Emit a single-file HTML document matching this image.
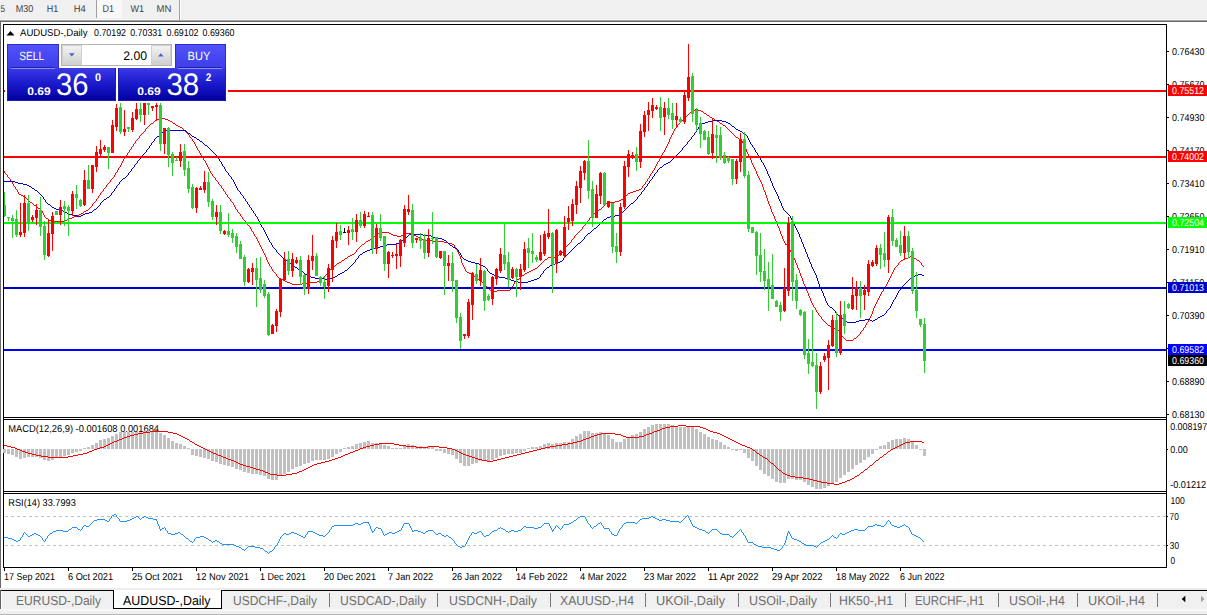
<!DOCTYPE html>
<html><head><meta charset="utf-8"><title>AUDUSD-,Daily</title>
<style>html,body{margin:0;padding:0;background:#fff;overflow:hidden}body{width:1207px;height:615px;position:relative;font-family:"Liberation Sans",sans-serif}svg{position:absolute;left:0;top:0;display:block}svg text{font-family:"Liberation Sans",sans-serif;white-space:pre;text-rendering:geometricPrecision}.c{shape-rendering:crispEdges}</style></head><body>
<svg width="1207" height="615" viewBox="0 0 1207 615">
<defs><linearGradient id="gb" x1="0" y1="0" x2="0" y2="1"><stop offset="0" stop-color="#3a3ae6"/><stop offset="0.5" stop-color="#1a1acc"/><stop offset="1" stop-color="#0000a0"/></linearGradient><linearGradient id="gt" x1="0" y1="0" x2="0" y2="1"><stop offset="0" stop-color="#5252fa"/><stop offset="1" stop-color="#3e3eea"/></linearGradient><linearGradient id="gs" x1="0" y1="0" x2="0" y2="1"><stop offset="0" stop-color="#f4f4f4"/><stop offset="1" stop-color="#cfcfcf"/></linearGradient><clipPath id="cm"><rect x="4" y="25" width="1162" height="392"/></clipPath></defs>
<rect x="0" y="0" width="1207" height="615" fill="#fff"/>
<rect x="0" y="0" width="1207" height="20" fill="#f0f0f0"/>
<rect x="0" y="19" width="1207" height="1" fill="#f5f5f5"/>
<rect x="0" y="20" width="1207" height="1" fill="#a6a6a6"/>
<rect x="0" y="21" width="1207" height="1" fill="#696969"/>
<rect x="97" y="0" width="25" height="18" fill="#f8f8f8"/>
<rect x="96" y="0" width="1" height="18" fill="#a0a0a0"/>
<rect x="179" y="0" width="1" height="20" fill="#a0a0a0"/>
<rect x="180" y="0" width="1" height="20" fill="#fff"/>
<text x="0.5" y="12" font-size="10" fill="#404040" textLength="4.5" lengthAdjust="spacingAndGlyphs">5</text>
<text x="15.7" y="12" font-size="10" fill="#404040" textLength="17.6" lengthAdjust="spacingAndGlyphs">M30</text>
<text x="46.7" y="12" font-size="10" fill="#404040" textLength="11.5" lengthAdjust="spacingAndGlyphs">H1</text>
<text x="73.8" y="12" font-size="10" fill="#404040" textLength="12" lengthAdjust="spacingAndGlyphs">H4</text>
<text x="102.5" y="12" font-size="10" fill="#404040" textLength="11.5" lengthAdjust="spacingAndGlyphs">D1</text>
<text x="130.5" y="12" font-size="10" fill="#404040" textLength="13.5" lengthAdjust="spacingAndGlyphs">W1</text>
<text x="156.5" y="12" font-size="10" fill="#404040" textLength="14.8" lengthAdjust="spacingAndGlyphs">MN</text>
<rect x="0" y="21" width="1" height="567" fill="#696969"/>
<g class="c" fill="#000">
<rect x="3" y="24" width="1164" height="1" fill="#000"/>
<rect x="3" y="24" width="1" height="544" fill="#000"/>
<rect x="1166" y="24" width="1" height="544" fill="#000"/>
<rect x="3" y="417" width="1164" height="1" fill="#000"/>
<rect x="3" y="419" width="1164" height="1" fill="#000"/>
<rect x="3" y="491" width="1164" height="1" fill="#000"/>
<rect x="3" y="493" width="1164" height="1" fill="#000"/>
<rect x="3" y="567" width="1164" height="1" fill="#000"/>
<rect x="4" y="418" width="1162" height="1" fill="#fff"/>
<rect x="4" y="492" width="1162" height="1" fill="#fff"/>
</g>
<g class="c">
<rect x="1167" y="51" width="2" height="1" fill="#000"/>
<rect x="1167" y="84" width="2" height="1" fill="#000"/>
<rect x="1167" y="117" width="2" height="1" fill="#000"/>
<rect x="1167" y="150" width="2" height="1" fill="#000"/>
<rect x="1167" y="183" width="2" height="1" fill="#000"/>
<rect x="1167" y="216" width="2" height="1" fill="#000"/>
<rect x="1167" y="249" width="2" height="1" fill="#000"/>
<rect x="1167" y="282" width="2" height="1" fill="#000"/>
<rect x="1167" y="315" width="2" height="1" fill="#000"/>
<rect x="1167" y="348" width="2" height="1" fill="#000"/>
<rect x="1167" y="381" width="2" height="1" fill="#000"/>
<rect x="1167" y="414" width="2" height="1" fill="#000"/>
</g>
<text x="1172" y="55" font-size="10" fill="#000" textLength="32.4" lengthAdjust="spacingAndGlyphs">0.76430</text>
<text x="1172" y="88" font-size="10" fill="#000" textLength="32.4" lengthAdjust="spacingAndGlyphs">0.75670</text>
<text x="1172" y="121" font-size="10" fill="#000" textLength="32.4" lengthAdjust="spacingAndGlyphs">0.74930</text>
<text x="1172" y="154" font-size="10" fill="#000" textLength="32.4" lengthAdjust="spacingAndGlyphs">0.74170</text>
<text x="1172" y="187" font-size="10" fill="#000" textLength="32.4" lengthAdjust="spacingAndGlyphs">0.73410</text>
<text x="1172" y="220" font-size="10" fill="#000" textLength="32.4" lengthAdjust="spacingAndGlyphs">0.72650</text>
<text x="1172" y="253" font-size="10" fill="#000" textLength="32.4" lengthAdjust="spacingAndGlyphs">0.71910</text>
<text x="1172" y="286" font-size="10" fill="#000" textLength="32.4" lengthAdjust="spacingAndGlyphs">0.71150</text>
<text x="1172" y="319" font-size="10" fill="#000" textLength="32.4" lengthAdjust="spacingAndGlyphs">0.70390</text>
<text x="1172" y="352" font-size="10" fill="#000" textLength="32.4" lengthAdjust="spacingAndGlyphs">0.69630</text>
<text x="1172" y="385" font-size="10" fill="#000" textLength="32.4" lengthAdjust="spacingAndGlyphs">0.68890</text>
<text x="1172" y="418" font-size="10" fill="#000" textLength="32.4" lengthAdjust="spacingAndGlyphs">0.68130</text>
<rect x="1167" y="449" width="1" height="1" fill="#000" class="c"/>
<text x="1170.2" y="430" font-size="10" fill="#000" textLength="37" lengthAdjust="spacingAndGlyphs">0.008197</text>
<text x="1170.2" y="453" font-size="10" fill="#000" textLength="17.5" lengthAdjust="spacingAndGlyphs">0.00</text>
<text x="1170.2" y="488" font-size="10" fill="#000" textLength="36" lengthAdjust="spacingAndGlyphs">-0.01212</text>
<rect x="1167" y="516" width="1" height="1" fill="#000" class="c"/>
<rect x="1167" y="545" width="1" height="1" fill="#000" class="c"/>
<text x="1170.5" y="504" font-size="10" fill="#000" textLength="14.3" lengthAdjust="spacingAndGlyphs">100</text>
<text x="1169.6" y="520" font-size="10" fill="#000" textLength="9.2" lengthAdjust="spacingAndGlyphs">70</text>
<text x="1169.8" y="549" font-size="10" fill="#000" textLength="9.2" lengthAdjust="spacingAndGlyphs">30</text>
<text x="1170.5" y="564" font-size="10" fill="#000" textLength="4.6" lengthAdjust="spacingAndGlyphs">0</text>
<g clip-path="url(#cm)">
<path class="c" fill="#ff0000" d="M695 109h3v1h-3zM693 110h2v1h-2zM698 110h3v1h-3zM691 111h2v1h-2zM701 111h2v1h-2zM690 112h1v1h-1zM703 112h1v1h-1zM689 113h1v1h-1zM704 113h2v1h-2zM688 114h1v1h-1zM706 114h1v1h-1zM687 115h1v1h-1zM707 115h2v1h-2zM686 116h1v1h-1zM709 116h1v1h-1zM685 117h1v1h-1zM710 117h2v1h-2zM160 118h5v1h-5zM684 118h1v1h-1zM712 118h2v1h-2zM157 119h3v1h-3zM165 119h3v1h-3zM683 119h1v1h-1zM714 119h1v1h-1zM155 120h2v1h-2zM168 120h2v1h-2zM682 120h1v1h-1zM715 120h2v1h-2zM154 121h1v1h-1zM170 121h2v1h-2zM681 121h1v1h-1zM717 121h2v1h-2zM153 122h1v1h-1zM172 122h1v1h-1zM680 122h1v1h-1zM719 122h1v1h-1zM151 123h2v1h-2zM173 123h2v1h-2zM679 123h1v1h-1zM720 123h2v1h-2zM150 124h1v1h-1zM175 124h1v1h-1zM678 124h1v1h-1zM722 124h1v1h-1zM149 125h1v1h-1zM176 125h2v1h-2zM677 125h1v2h-1zM723 125h2v1h-2zM148 126h1v1h-1zM178 126h2v1h-2zM725 126h1v1h-1zM147 127h1v1h-1zM180 127h2v1h-2zM676 127h1v1h-1zM726 127h1v1h-1zM146 128h1v1h-1zM182 128h1v1h-1zM675 128h1v1h-1zM727 128h1v1h-1zM145 129h1v2h-1zM183 129h1v1h-1zM674 129h1v2h-1zM728 129h1v1h-1zM184 130h1v1h-1zM729 130h1v1h-1zM144 131h1v1h-1zM185 131h1v1h-1zM673 131h1v2h-1zM730 131h1v1h-1zM143 132h1v1h-1zM186 132h1v1h-1zM731 132h1v1h-1zM142 133h1v1h-1zM187 133h1v1h-1zM672 133h1v2h-1zM732 133h1v1h-1zM141 134h1v1h-1zM188 134h1v1h-1zM733 134h1v1h-1zM140 135h1v1h-1zM189 135h1v2h-1zM671 135h1v2h-1zM734 135h1v1h-1zM139 136h1v2h-1zM735 136h1v1h-1zM190 137h1v1h-1zM670 137h1v2h-1zM736 137h2v1h-2zM138 138h1v1h-1zM191 138h1v1h-1zM738 138h1v1h-1zM137 139h1v1h-1zM192 139h1v2h-1zM669 139h1v3h-1zM739 139h2v1h-2zM136 140h1v1h-1zM741 140h1v1h-1zM135 141h1v2h-1zM193 141h1v1h-1zM742 141h1v2h-1zM194 142h1v2h-1zM668 142h1v2h-1zM134 143h1v1h-1zM743 143h1v2h-1zM133 144h1v2h-1zM195 144h1v2h-1zM667 144h1v2h-1zM744 145h1v2h-1zM132 146h1v1h-1zM196 146h1v2h-1zM666 146h1v2h-1zM131 147h1v2h-1zM745 147h1v2h-1zM197 148h1v2h-1zM665 148h1v2h-1zM130 149h1v1h-1zM746 149h1v3h-1zM129 150h1v2h-1zM198 150h1v1h-1zM664 150h1v2h-1zM199 151h1v2h-1zM128 152h1v1h-1zM663 152h1v1h-1zM747 152h1v2h-1zM127 153h1v2h-1zM200 153h1v2h-1zM662 153h1v2h-1zM748 154h1v2h-1zM126 155h1v1h-1zM201 155h1v1h-1zM661 155h1v2h-1zM125 156h1v2h-1zM202 156h1v2h-1zM749 156h1v2h-1zM660 157h1v2h-1zM124 158h1v1h-1zM203 158h1v2h-1zM750 158h1v2h-1zM123 159h1v2h-1zM659 159h1v2h-1zM204 160h1v1h-1zM751 160h1v3h-1zM122 161h1v2h-1zM205 161h1v2h-1zM658 161h1v1h-1zM657 162h1v2h-1zM121 163h1v2h-1zM206 163h1v2h-1zM752 163h1v2h-1zM656 164h1v2h-1zM120 165h1v2h-1zM207 165h1v2h-1zM753 165h1v2h-1zM655 166h1v2h-1zM119 167h1v1h-1zM208 167h1v2h-1zM754 167h1v2h-1zM118 168h1v2h-1zM654 168h1v2h-1zM209 169h1v2h-1zM755 169h1v2h-1zM3 170h1v1h-1zM117 170h1v2h-1zM653 170h1v1h-1zM4 171h1v2h-1zM210 171h1v2h-1zM652 171h1v2h-1zM756 171h1v3h-1zM116 172h1v1h-1zM5 173h1v1h-1zM115 173h1v2h-1zM211 173h1v1h-1zM651 173h1v1h-1zM6 174h1v1h-1zM212 174h1v2h-1zM650 174h1v2h-1zM757 174h1v2h-1zM7 175h1v2h-1zM114 175h1v2h-1zM213 176h1v1h-1zM649 176h1v2h-1zM758 176h1v2h-1zM8 177h1v1h-1zM113 177h1v1h-1zM214 177h1v1h-1zM9 178h1v1h-1zM112 178h1v1h-1zM215 178h1v2h-1zM648 178h1v1h-1zM759 178h1v2h-1zM10 179h1v2h-1zM111 179h1v1h-1zM647 179h1v2h-1zM110 180h1v2h-1zM216 180h1v1h-1zM760 180h1v2h-1zM11 181h1v1h-1zM217 181h1v1h-1zM646 181h1v1h-1zM12 182h1v2h-1zM109 182h1v1h-1zM218 182h1v2h-1zM645 182h1v2h-1zM761 182h1v2h-1zM108 183h1v1h-1zM13 184h1v2h-1zM107 184h1v1h-1zM219 184h1v1h-1zM644 184h1v1h-1zM762 184h1v3h-1zM106 185h1v2h-1zM220 185h1v1h-1zM643 185h1v1h-1zM14 186h1v1h-1zM221 186h1v2h-1zM642 186h1v2h-1zM15 187h1v2h-1zM105 187h1v1h-1zM763 187h1v3h-1zM104 188h1v1h-1zM222 188h1v1h-1zM641 188h1v1h-1zM16 189h1v1h-1zM103 189h1v2h-1zM223 189h1v2h-1zM639 189h2v1h-2zM17 190h1v2h-1zM636 190h3v1h-3zM764 190h1v2h-1zM102 191h1v1h-1zM224 191h1v1h-1zM633 191h3v1h-3zM18 192h1v2h-1zM101 192h1v1h-1zM225 192h1v2h-1zM630 192h3v1h-3zM765 192h1v3h-1zM100 193h1v2h-1zM628 193h2v1h-2zM19 194h2v1h-2zM226 194h1v1h-1zM627 194h1v1h-1zM21 195h2v1h-2zM99 195h1v1h-1zM227 195h1v2h-1zM626 195h1v1h-1zM766 195h1v3h-1zM23 196h2v1h-2zM98 196h1v2h-1zM625 196h1v1h-1zM25 197h1v1h-1zM228 197h1v1h-1zM624 197h1v1h-1zM26 198h1v1h-1zM97 198h1v1h-1zM229 198h1v1h-1zM623 198h1v1h-1zM767 198h1v3h-1zM27 199h1v1h-1zM96 199h1v2h-1zM230 199h1v2h-1zM621 199h2v1h-2zM28 200h1v1h-1zM619 200h2v1h-2zM29 201h1v1h-1zM95 201h1v1h-1zM231 201h1v1h-1zM615 201h4v1h-4zM768 201h1v3h-1zM30 202h2v1h-2zM94 202h1v1h-1zM232 202h1v1h-1zM607 202h8v1h-8zM32 203h1v1h-1zM93 203h1v1h-1zM233 203h1v2h-1zM606 203h1v1h-1zM33 204h1v1h-1zM92 204h1v2h-1zM605 204h1v1h-1zM769 204h1v2h-1zM34 205h2v1h-2zM234 205h1v2h-1zM604 205h1v1h-1zM36 206h1v1h-1zM91 206h1v1h-1zM603 206h1v1h-1zM770 206h1v3h-1zM37 207h1v1h-1zM90 207h1v1h-1zM235 207h1v2h-1zM602 207h1v1h-1zM38 208h2v1h-2zM89 208h1v1h-1zM601 208h1v1h-1zM40 209h1v1h-1zM88 209h1v1h-1zM236 209h1v1h-1zM599 209h2v1h-2zM771 209h1v3h-1zM41 210h1v1h-1zM86 210h2v1h-2zM237 210h1v2h-1zM598 210h1v1h-1zM42 211h1v2h-1zM84 211h2v1h-2zM597 211h1v1h-1zM83 212h1v1h-1zM238 212h1v1h-1zM596 212h1v1h-1zM772 212h1v2h-1zM43 213h1v2h-1zM81 213h2v1h-2zM239 213h1v1h-1zM594 213h2v1h-2zM79 214h2v1h-2zM240 214h1v2h-1zM593 214h1v1h-1zM773 214h1v2h-1zM44 215h1v2h-1zM77 215h2v1h-2zM592 215h1v1h-1zM74 216h3v1h-3zM241 216h1v1h-1zM591 216h1v1h-1zM774 216h1v3h-1zM45 217h1v1h-1zM72 217h2v1h-2zM242 217h1v2h-1zM590 217h1v1h-1zM46 218h2v1h-2zM69 218h3v1h-3zM589 218h1v2h-1zM48 219h1v1h-1zM67 219h2v1h-2zM243 219h1v1h-1zM775 219h1v2h-1zM49 220h2v1h-2zM65 220h2v1h-2zM244 220h1v1h-1zM588 220h1v1h-1zM51 221h14v1h-14zM245 221h1v1h-1zM587 221h1v1h-1zM776 221h1v2h-1zM246 222h1v2h-1zM586 222h1v1h-1zM585 223h1v2h-1zM777 223h1v3h-1zM247 224h1v1h-1zM248 225h1v1h-1zM584 225h1v1h-1zM249 226h1v1h-1zM583 226h1v1h-1zM778 226h1v2h-1zM250 227h1v2h-1zM582 227h1v2h-1zM779 228h1v3h-1zM251 229h1v2h-1zM581 229h1v1h-1zM580 230h1v1h-1zM252 231h1v1h-1zM579 231h1v1h-1zM780 231h1v3h-1zM253 232h1v2h-1zM380 232h9v1h-9zM578 232h1v1h-1zM377 233h3v1h-3zM389 233h2v1h-2zM406 233h5v1h-5zM577 233h1v1h-1zM254 234h1v2h-1zM376 234h1v1h-1zM391 234h2v1h-2zM404 234h2v1h-2zM411 234h2v1h-2zM576 234h1v1h-1zM781 234h1v2h-1zM375 235h1v1h-1zM393 235h4v1h-4zM401 235h3v1h-3zM413 235h3v1h-3zM575 235h1v1h-1zM255 236h1v1h-1zM374 236h1v1h-1zM397 236h4v1h-4zM416 236h2v1h-2zM574 236h1v2h-1zM782 236h1v3h-1zM256 237h1v2h-1zM373 237h1v1h-1zM418 237h2v1h-2zM372 238h1v1h-1zM420 238h2v1h-2zM573 238h1v1h-1zM257 239h1v2h-1zM370 239h2v1h-2zM422 239h2v1h-2zM572 239h1v1h-1zM783 239h1v2h-1zM368 240h2v1h-2zM424 240h9v1h-9zM571 240h1v2h-1zM258 241h1v2h-1zM366 241h2v1h-2zM433 241h11v1h-11zM784 241h1v2h-1zM365 242h1v1h-1zM444 242h4v1h-4zM570 242h1v1h-1zM259 243h1v2h-1zM364 243h1v1h-1zM448 243h4v1h-4zM569 243h1v1h-1zM785 243h1v2h-1zM362 244h2v1h-2zM452 244h2v1h-2zM568 244h1v1h-1zM786 244h2v1h-2zM260 245h1v2h-1zM361 245h1v1h-1zM454 245h1v2h-1zM567 245h1v1h-1zM787 245h1v1h-1zM360 246h1v1h-1zM566 246h1v1h-1zM788 246h1v2h-1zM261 247h1v2h-1zM359 247h1v1h-1zM455 247h1v2h-1zM565 247h1v1h-1zM358 248h1v1h-1zM564 248h1v2h-1zM789 248h1v2h-1zM262 249h1v2h-1zM357 249h1v1h-1zM456 249h1v1h-1zM356 250h1v2h-1zM457 250h1v2h-1zM563 250h1v2h-1zM790 250h1v2h-1zM263 251h1v2h-1zM355 252h1v1h-1zM458 252h1v2h-1zM562 252h1v1h-1zM791 252h1v2h-1zM264 253h1v2h-1zM354 253h1v1h-1zM560 253h2v1h-2zM352 254h2v1h-2zM459 254h1v2h-1zM559 254h1v1h-1zM792 254h1v2h-1zM265 255h1v2h-1zM350 255h2v1h-2zM557 255h2v1h-2zM348 256h2v1h-2zM460 256h1v3h-1zM555 256h2v1h-2zM793 256h1v2h-1zM910 256h2v1h-2zM266 257h1v3h-1zM347 257h1v1h-1zM548 257h7v1h-7zM908 257h2v1h-2zM912 257h2v1h-2zM345 258h2v1h-2zM547 258h1v1h-1zM794 258h1v2h-1zM905 258h3v1h-3zM914 258h2v1h-2zM344 259h1v1h-1zM461 259h1v4h-1zM545 259h2v1h-2zM903 259h2v1h-2zM916 259h1v1h-1zM267 260h1v2h-1zM342 260h2v1h-2zM544 260h1v1h-1zM795 260h1v3h-1zM901 260h2v1h-2zM917 260h2v1h-2zM341 261h1v1h-1zM543 261h1v1h-1zM900 261h1v1h-1zM919 261h1v1h-1zM268 262h1v2h-1zM339 262h2v1h-2zM542 262h1v1h-1zM899 262h1v1h-1zM920 262h1v1h-1zM337 263h2v1h-2zM462 263h1v2h-1zM541 263h1v1h-1zM796 263h1v2h-1zM898 263h1v2h-1zM921 263h1v2h-1zM269 264h1v2h-1zM336 264h1v1h-1zM540 264h1v1h-1zM335 265h1v1h-1zM463 265h1v2h-1zM539 265h1v1h-1zM797 265h1v3h-1zM897 265h1v1h-1zM922 265h1v1h-1zM270 266h1v1h-1zM333 266h2v1h-2zM538 266h1v1h-1zM896 266h1v1h-1zM923 266h1v1h-1zM271 267h1v2h-1zM332 267h1v1h-1zM464 267h1v2h-1zM537 267h1v1h-1zM895 267h1v1h-1zM331 268h1v1h-1zM535 268h2v1h-2zM798 268h1v2h-1zM894 268h1v2h-1zM272 269h1v2h-1zM330 269h1v1h-1zM465 269h1v2h-1zM533 269h2v1h-2zM329 270h1v2h-1zM531 270h2v1h-2zM799 270h1v3h-1zM893 270h1v2h-1zM273 271h1v1h-1zM466 271h1v1h-1zM529 271h2v1h-2zM274 272h1v1h-1zM328 272h1v1h-1zM467 272h2v1h-2zM527 272h2v1h-2zM892 272h1v2h-1zM275 273h1v1h-1zM327 273h1v1h-1zM469 273h2v1h-2zM525 273h2v1h-2zM800 273h1v3h-1zM276 274h1v2h-1zM326 274h1v1h-1zM471 274h2v1h-2zM524 274h1v1h-1zM891 274h1v2h-1zM325 275h1v1h-1zM473 275h1v1h-1zM522 275h2v1h-2zM277 276h1v1h-1zM324 276h1v1h-1zM474 276h2v1h-2zM521 276h1v1h-1zM801 276h1v2h-1zM890 276h1v2h-1zM278 277h1v1h-1zM323 277h1v1h-1zM476 277h1v1h-1zM520 277h1v1h-1zM279 278h2v1h-2zM322 278h1v1h-1zM477 278h1v1h-1zM519 278h1v1h-1zM802 278h1v3h-1zM889 278h1v2h-1zM281 279h2v1h-2zM321 279h1v1h-1zM478 279h2v1h-2zM517 279h2v1h-2zM283 280h2v1h-2zM319 280h2v1h-2zM480 280h1v1h-1zM516 280h1v1h-1zM888 280h1v2h-1zM285 281h2v1h-2zM317 281h2v1h-2zM481 281h1v1h-1zM515 281h1v1h-1zM803 281h1v3h-1zM287 282h3v1h-3zM308 282h9v1h-9zM482 282h1v1h-1zM514 282h1v2h-1zM887 282h1v2h-1zM290 283h2v1h-2zM302 283h6v1h-6zM483 283h1v1h-1zM292 284h10v1h-10zM484 284h1v1h-1zM513 284h1v2h-1zM804 284h1v2h-1zM886 284h1v2h-1zM485 285h1v1h-1zM486 286h1v1h-1zM512 286h1v1h-1zM805 286h1v2h-1zM885 286h1v1h-1zM487 287h1v1h-1zM511 287h1v2h-1zM884 287h1v2h-1zM488 288h1v1h-1zM806 288h1v3h-1zM489 289h1v1h-1zM510 289h1v1h-1zM883 289h1v2h-1zM490 290h3v1h-3zM497 290h13v1h-13zM493 291h4v1h-4zM807 291h1v2h-1zM882 291h1v1h-1zM881 292h1v2h-1zM808 293h1v3h-1zM880 294h1v2h-1zM809 296h1v2h-1zM879 296h1v2h-1zM810 298h1v3h-1zM878 298h1v2h-1zM877 300h1v2h-1zM811 301h1v2h-1zM876 302h1v2h-1zM812 303h1v2h-1zM875 304h1v2h-1zM813 305h1v2h-1zM874 306h1v2h-1zM814 307h1v1h-1zM815 308h1v2h-1zM873 308h1v3h-1zM816 310h1v2h-1zM872 311h1v3h-1zM817 312h1v1h-1zM818 313h1v2h-1zM871 314h1v2h-1zM819 315h1v1h-1zM820 316h1v1h-1zM870 316h1v2h-1zM821 317h1v2h-1zM869 318h1v2h-1zM822 319h1v1h-1zM823 320h1v1h-1zM868 320h1v2h-1zM824 321h1v1h-1zM825 322h1v1h-1zM867 322h1v1h-1zM826 323h1v1h-1zM866 323h1v2h-1zM827 324h1v1h-1zM828 325h2v1h-2zM865 325h1v2h-1zM830 326h2v1h-2zM832 327h2v1h-2zM864 327h1v1h-1zM834 328h2v1h-2zM863 328h1v2h-1zM836 329h2v1h-2zM838 330h1v1h-1zM862 330h1v1h-1zM839 331h1v2h-1zM861 331h1v1h-1zM860 332h1v2h-1zM840 333h1v1h-1zM841 334h1v2h-1zM859 334h1v1h-1zM858 335h1v1h-1zM842 336h1v1h-1zM857 336h1v1h-1zM843 337h1v1h-1zM856 337h1v1h-1zM844 338h1v1h-1zM854 338h2v1h-2zM845 339h1v1h-1zM853 339h1v1h-1zM846 340h7v1h-7z"/>
<path class="c" fill="#0000cd" d="M712 120h10v1h-10zM708 121h4v1h-4zM722 121h4v1h-4zM705 122h3v1h-3zM726 122h2v1h-2zM702 123h3v1h-3zM728 123h2v1h-2zM700 124h2v1h-2zM730 124h1v1h-1zM699 125h1v2h-1zM731 125h1v1h-1zM732 126h2v1h-2zM698 127h1v2h-1zM734 127h1v1h-1zM735 128h1v1h-1zM697 129h1v1h-1zM736 129h2v1h-2zM165 130h21v1h-21zM696 130h1v2h-1zM738 130h2v1h-2zM164 131h1v1h-1zM186 131h1v1h-1zM740 131h2v1h-2zM162 132h2v1h-2zM187 132h1v1h-1zM695 132h1v1h-1zM742 132h1v1h-1zM161 133h1v1h-1zM188 133h2v1h-2zM694 133h1v2h-1zM743 133h2v1h-2zM160 134h1v1h-1zM190 134h1v1h-1zM745 134h1v1h-1zM159 135h1v1h-1zM191 135h1v1h-1zM693 135h1v1h-1zM746 135h1v1h-1zM157 136h2v1h-2zM192 136h2v1h-2zM692 136h1v1h-1zM747 136h1v2h-1zM156 137h1v1h-1zM194 137h2v1h-2zM691 137h1v2h-1zM155 138h1v1h-1zM196 138h1v1h-1zM748 138h1v2h-1zM154 139h1v2h-1zM197 139h2v1h-2zM690 139h1v1h-1zM199 140h1v1h-1zM689 140h1v1h-1zM749 140h1v2h-1zM153 141h1v1h-1zM200 141h2v1h-2zM688 141h1v1h-1zM152 142h1v1h-1zM202 142h1v1h-1zM687 142h1v2h-1zM750 142h1v2h-1zM151 143h1v2h-1zM203 143h1v1h-1zM204 144h1v1h-1zM686 144h1v1h-1zM751 144h1v1h-1zM150 145h1v1h-1zM205 145h2v1h-2zM685 145h1v1h-1zM752 145h1v2h-1zM149 146h1v2h-1zM207 146h1v1h-1zM684 146h1v1h-1zM208 147h1v1h-1zM683 147h1v1h-1zM753 147h1v1h-1zM148 148h1v1h-1zM209 148h1v1h-1zM682 148h1v2h-1zM754 148h1v2h-1zM147 149h1v1h-1zM210 149h1v1h-1zM146 150h1v2h-1zM211 150h1v1h-1zM681 150h1v1h-1zM755 150h1v2h-1zM212 151h1v1h-1zM680 151h1v1h-1zM145 152h1v1h-1zM213 152h1v1h-1zM679 152h1v1h-1zM756 152h1v1h-1zM144 153h1v1h-1zM214 153h1v1h-1zM678 153h1v1h-1zM757 153h1v2h-1zM143 154h1v1h-1zM215 154h1v1h-1zM677 154h1v1h-1zM142 155h1v1h-1zM216 155h1v2h-1zM676 155h1v1h-1zM758 155h1v2h-1zM141 156h1v2h-1zM675 156h1v1h-1zM217 157h1v1h-1zM674 157h1v1h-1zM759 157h1v1h-1zM140 158h1v1h-1zM218 158h1v1h-1zM673 158h1v1h-1zM760 158h1v2h-1zM139 159h1v1h-1zM219 159h1v2h-1zM672 159h1v1h-1zM138 160h1v1h-1zM671 160h1v1h-1zM761 160h1v2h-1zM137 161h1v2h-1zM220 161h1v1h-1zM670 161h1v1h-1zM221 162h1v2h-1zM668 162h2v1h-2zM762 162h1v1h-1zM136 163h1v1h-1zM666 163h2v1h-2zM763 163h1v2h-1zM135 164h1v1h-1zM222 164h1v2h-1zM664 164h2v1h-2zM134 165h1v2h-1zM663 165h1v1h-1zM764 165h1v2h-1zM223 166h1v1h-1zM662 166h1v1h-1zM133 167h1v1h-1zM224 167h1v2h-1zM660 167h2v1h-2zM765 167h1v2h-1zM132 168h1v1h-1zM659 168h1v1h-1zM131 169h1v2h-1zM225 169h1v2h-1zM658 169h1v1h-1zM766 169h1v2h-1zM657 170h1v2h-1zM130 171h1v1h-1zM226 171h1v1h-1zM767 171h1v3h-1zM129 172h1v1h-1zM227 172h1v1h-1zM656 172h1v1h-1zM128 173h1v2h-1zM228 173h1v2h-1zM655 173h1v1h-1zM654 174h1v2h-1zM768 174h1v2h-1zM127 175h1v1h-1zM229 175h1v1h-1zM126 176h1v1h-1zM230 176h1v1h-1zM653 176h1v1h-1zM769 176h1v2h-1zM125 177h1v1h-1zM231 177h1v2h-1zM652 177h1v2h-1zM123 178h2v1h-2zM770 178h1v3h-1zM122 179h1v1h-1zM232 179h1v1h-1zM651 179h1v1h-1zM121 180h1v1h-1zM233 180h1v2h-1zM650 180h1v1h-1zM3 181h12v1h-12zM120 181h1v1h-1zM649 181h1v2h-1zM771 181h1v2h-1zM15 182h3v1h-3zM119 182h1v2h-1zM234 182h1v2h-1zM18 183h5v1h-5zM648 183h1v1h-1zM772 183h1v3h-1zM23 184h4v1h-4zM118 184h1v1h-1zM235 184h1v2h-1zM647 184h1v2h-1zM27 185h2v1h-2zM117 185h1v1h-1zM29 186h2v1h-2zM116 186h1v2h-1zM236 186h1v2h-1zM646 186h1v1h-1zM773 186h1v2h-1zM31 187h1v1h-1zM645 187h1v1h-1zM32 188h2v1h-2zM115 188h1v1h-1zM237 188h1v2h-1zM644 188h1v2h-1zM774 188h1v2h-1zM34 189h1v1h-1zM114 189h1v2h-1zM35 190h2v1h-2zM238 190h1v1h-1zM643 190h1v1h-1zM775 190h1v2h-1zM37 191h1v1h-1zM113 191h1v1h-1zM239 191h1v1h-1zM642 191h1v1h-1zM38 192h1v1h-1zM112 192h1v1h-1zM240 192h1v2h-1zM641 192h1v2h-1zM776 192h1v2h-1zM39 193h1v1h-1zM111 193h1v2h-1zM40 194h1v1h-1zM241 194h1v1h-1zM640 194h1v1h-1zM777 194h1v2h-1zM41 195h1v1h-1zM110 195h1v1h-1zM242 195h1v1h-1zM639 195h1v1h-1zM42 196h1v1h-1zM109 196h1v1h-1zM243 196h1v2h-1zM638 196h1v1h-1zM778 196h1v3h-1zM43 197h1v2h-1zM107 197h2v1h-2zM637 197h1v2h-1zM106 198h1v1h-1zM244 198h1v1h-1zM44 199h1v1h-1zM104 199h2v1h-2zM245 199h1v2h-1zM636 199h1v1h-1zM779 199h1v2h-1zM45 200h1v2h-1zM103 200h1v1h-1zM635 200h1v1h-1zM102 201h1v1h-1zM246 201h1v1h-1zM634 201h1v1h-1zM780 201h1v2h-1zM46 202h1v1h-1zM101 202h1v1h-1zM247 202h1v2h-1zM633 202h1v1h-1zM47 203h1v1h-1zM100 203h1v2h-1zM631 203h2v1h-2zM781 203h1v3h-1zM48 204h2v1h-2zM248 204h1v1h-1zM630 204h1v1h-1zM50 205h1v1h-1zM99 205h1v1h-1zM249 205h1v2h-1zM629 205h1v1h-1zM51 206h1v1h-1zM98 206h1v1h-1zM628 206h1v1h-1zM782 206h1v2h-1zM52 207h2v1h-2zM97 207h1v1h-1zM250 207h1v1h-1zM627 207h1v1h-1zM54 208h2v1h-2zM96 208h1v1h-1zM251 208h1v2h-1zM626 208h1v1h-1zM783 208h1v2h-1zM56 209h3v1h-3zM94 209h2v1h-2zM625 209h1v1h-1zM59 210h4v1h-4zM93 210h1v1h-1zM252 210h1v1h-1zM624 210h1v1h-1zM784 210h1v1h-1zM63 211h2v1h-2zM92 211h1v1h-1zM253 211h1v2h-1zM623 211h1v1h-1zM785 211h1v1h-1zM65 212h2v1h-2zM89 212h3v1h-3zM622 212h1v1h-1zM786 212h1v1h-1zM67 213h2v1h-2zM85 213h4v1h-4zM254 213h1v1h-1zM620 213h2v1h-2zM787 213h1v1h-1zM69 214h4v1h-4zM83 214h2v1h-2zM255 214h1v2h-1zM619 214h1v1h-1zM788 214h1v1h-1zM73 215h4v1h-4zM81 215h2v1h-2zM615 215h4v1h-4zM789 215h1v1h-1zM77 216h4v1h-4zM256 216h1v1h-1zM610 216h5v1h-5zM790 216h1v2h-1zM257 217h1v2h-1zM607 217h3v1h-3zM606 218h1v1h-1zM791 218h1v2h-1zM258 219h1v2h-1zM604 219h2v1h-2zM603 220h1v1h-1zM792 220h1v2h-1zM259 221h1v2h-1zM602 221h1v1h-1zM601 222h1v1h-1zM793 222h1v2h-1zM260 223h1v2h-1zM600 223h1v1h-1zM599 224h1v1h-1zM794 224h1v2h-1zM261 225h1v2h-1zM598 225h1v1h-1zM597 226h1v1h-1zM795 226h1v2h-1zM262 227h1v1h-1zM596 227h1v1h-1zM263 228h1v2h-1zM594 228h2v1h-2zM796 228h1v2h-1zM593 229h1v1h-1zM264 230h1v2h-1zM592 230h1v1h-1zM797 230h1v2h-1zM591 231h1v1h-1zM265 232h1v2h-1zM590 232h1v1h-1zM798 232h1v2h-1zM588 233h2v1h-2zM266 234h1v2h-1zM409 234h14v1h-14zM587 234h1v1h-1zM799 234h1v3h-1zM408 235h1v1h-1zM423 235h8v1h-8zM586 235h1v1h-1zM267 236h1v2h-1zM407 236h1v1h-1zM431 236h2v1h-2zM585 236h1v1h-1zM406 237h1v1h-1zM433 237h4v1h-4zM584 237h1v2h-1zM800 237h1v2h-1zM268 238h1v2h-1zM404 238h2v1h-2zM437 238h5v1h-5zM403 239h1v1h-1zM442 239h2v1h-2zM583 239h1v1h-1zM801 239h1v3h-1zM269 240h1v2h-1zM402 240h1v1h-1zM444 240h2v1h-2zM582 240h1v1h-1zM401 241h1v1h-1zM446 241h1v1h-1zM581 241h1v1h-1zM270 242h1v1h-1zM400 242h1v1h-1zM447 242h1v1h-1zM580 242h1v1h-1zM802 242h1v2h-1zM271 243h1v2h-1zM396 243h4v1h-4zM448 243h1v1h-1zM578 243h2v1h-2zM387 244h9v1h-9zM449 244h1v1h-1zM577 244h1v1h-1zM803 244h1v3h-1zM272 245h1v2h-1zM384 245h3v1h-3zM450 245h2v1h-2zM576 245h1v1h-1zM380 246h4v1h-4zM452 246h1v1h-1zM575 246h1v1h-1zM273 247h1v1h-1zM376 247h4v1h-4zM453 247h2v1h-2zM574 247h1v1h-1zM804 247h1v2h-1zM274 248h1v1h-1zM373 248h3v1h-3zM455 248h2v1h-2zM573 248h1v1h-1zM275 249h1v1h-1zM370 249h3v1h-3zM457 249h1v1h-1zM572 249h1v1h-1zM805 249h1v3h-1zM276 250h1v2h-1zM367 250h3v1h-3zM458 250h1v2h-1zM571 250h1v1h-1zM365 251h2v1h-2zM570 251h1v1h-1zM277 252h1v1h-1zM363 252h2v1h-2zM459 252h1v1h-1zM569 252h1v1h-1zM806 252h1v2h-1zM278 253h1v1h-1zM362 253h1v1h-1zM460 253h1v2h-1zM568 253h1v1h-1zM279 254h1v1h-1zM360 254h2v1h-2zM567 254h1v1h-1zM807 254h1v3h-1zM280 255h1v1h-1zM359 255h1v1h-1zM461 255h1v2h-1zM566 255h1v1h-1zM281 256h1v1h-1zM358 256h1v2h-1zM565 256h1v1h-1zM282 257h1v1h-1zM462 257h1v1h-1zM564 257h1v1h-1zM808 257h1v2h-1zM283 258h1v1h-1zM357 258h1v1h-1zM463 258h1v1h-1zM563 258h1v2h-1zM284 259h1v1h-1zM356 259h1v1h-1zM464 259h2v1h-2zM809 259h1v3h-1zM285 260h2v1h-2zM355 260h1v2h-1zM466 260h2v1h-2zM562 260h1v1h-1zM287 261h1v1h-1zM468 261h3v1h-3zM560 261h2v1h-2zM288 262h1v1h-1zM354 262h1v1h-1zM471 262h4v1h-4zM558 262h2v1h-2zM810 262h1v2h-1zM289 263h2v1h-2zM353 263h1v1h-1zM475 263h4v1h-4zM555 263h3v1h-3zM291 264h2v1h-2zM352 264h1v1h-1zM479 264h2v1h-2zM552 264h3v1h-3zM811 264h1v3h-1zM293 265h1v1h-1zM351 265h1v1h-1zM481 265h2v1h-2zM550 265h2v1h-2zM294 266h1v1h-1zM350 266h1v1h-1zM483 266h2v1h-2zM549 266h1v1h-1zM295 267h2v1h-2zM349 267h1v1h-1zM485 267h1v1h-1zM547 267h2v1h-2zM812 267h1v2h-1zM297 268h1v1h-1zM348 268h1v1h-1zM486 268h1v1h-1zM546 268h1v1h-1zM298 269h1v1h-1zM347 269h1v1h-1zM487 269h1v2h-1zM545 269h1v1h-1zM813 269h1v2h-1zM299 270h2v1h-2zM345 270h2v1h-2zM544 270h1v1h-1zM301 271h2v1h-2zM344 271h1v1h-1zM488 271h1v1h-1zM543 271h1v2h-1zM814 271h1v2h-1zM303 272h1v1h-1zM342 272h2v1h-2zM489 272h1v1h-1zM304 273h1v1h-1zM340 273h2v1h-2zM490 273h2v1h-2zM542 273h1v1h-1zM815 273h1v2h-1zM305 274h2v1h-2zM338 274h2v1h-2zM492 274h2v1h-2zM541 274h1v1h-1zM918 274h4v1h-4zM307 275h2v1h-2zM337 275h1v1h-1zM494 275h3v1h-3zM540 275h1v2h-1zM816 275h1v3h-1zM915 275h3v1h-3zM922 275h2v1h-2zM309 276h2v1h-2zM335 276h2v1h-2zM497 276h2v1h-2zM913 276h2v1h-2zM311 277h4v1h-4zM333 277h2v1h-2zM499 277h6v1h-6zM539 277h1v1h-1zM911 277h2v1h-2zM315 278h10v1h-10zM330 278h3v1h-3zM505 278h3v1h-3zM537 278h2v1h-2zM817 278h1v3h-1zM910 278h1v1h-1zM325 279h5v1h-5zM508 279h3v1h-3zM534 279h3v1h-3zM909 279h1v1h-1zM511 280h3v1h-3zM531 280h3v1h-3zM908 280h1v1h-1zM514 281h4v1h-4zM528 281h3v1h-3zM818 281h1v3h-1zM907 281h1v1h-1zM518 282h10v1h-10zM906 282h1v1h-1zM905 283h1v1h-1zM819 284h1v3h-1zM904 284h1v1h-1zM903 285h1v1h-1zM902 286h1v2h-1zM820 287h1v2h-1zM901 288h1v1h-1zM821 289h1v2h-1zM900 289h1v1h-1zM899 290h1v1h-1zM822 291h1v2h-1zM898 291h1v2h-1zM823 293h1v3h-1zM897 293h1v2h-1zM896 295h1v2h-1zM824 296h1v2h-1zM895 297h1v2h-1zM825 298h1v3h-1zM894 299h1v1h-1zM893 300h1v2h-1zM826 301h1v2h-1zM892 302h1v2h-1zM827 303h1v2h-1zM891 304h1v2h-1zM828 305h1v1h-1zM829 306h1v1h-1zM890 306h1v2h-1zM830 307h2v1h-2zM832 308h1v1h-1zM889 308h1v1h-1zM833 309h1v1h-1zM888 309h1v1h-1zM834 310h1v1h-1zM887 310h1v1h-1zM835 311h1v2h-1zM886 311h1v2h-1zM836 313h1v1h-1zM885 313h1v1h-1zM837 314h1v1h-1zM884 314h1v1h-1zM838 315h1v1h-1zM882 315h2v1h-2zM839 316h1v1h-1zM880 316h2v1h-2zM840 317h2v1h-2zM878 317h2v1h-2zM842 318h2v1h-2zM877 318h1v1h-1zM844 319h1v1h-1zM865 319h5v1h-5zM875 319h2v1h-2zM845 320h1v1h-1zM859 320h6v1h-6zM870 320h2v1h-2zM873 320h2v1h-2zM846 321h1v1h-1zM856 321h3v1h-3zM872 321h1v1h-1zM847 322h9v1h-9z"/>
<g class="c">
<rect x="4" y="90" width="1162" height="2" fill="#ff0000"/>
<rect x="4" y="156" width="1162" height="2" fill="#ff0000"/>
<rect x="4" y="222" width="1162" height="2" fill="#00ff00"/>
<rect x="4" y="287" width="1162" height="2" fill="#0000cd"/>
<rect x="4" y="349" width="1162" height="2" fill="#0000ff"/>
</g>
<g class="c">
<rect x="4" y="192" width="1" height="25" fill="#32cd32"/>
<rect x="3" y="205" width="3" height="11" fill="#32cd32"/>
<rect x="8" y="217" width="1" height="4" fill="#32cd32"/>
<rect x="7" y="217" width="3" height="1" fill="#32cd32"/>
<rect x="12" y="215" width="1" height="23" fill="#32cd32"/>
<rect x="11" y="218" width="3" height="3" fill="#32cd32"/>
<rect x="16" y="210" width="1" height="27" fill="#32cd32"/>
<rect x="15" y="219" width="3" height="16" fill="#32cd32"/>
<rect x="20" y="203" width="1" height="34" fill="#ff0000"/>
<rect x="19" y="232" width="3" height="3" fill="#ff0000"/>
<rect x="24" y="195" width="1" height="42" fill="#ff0000"/>
<rect x="23" y="203" width="3" height="30" fill="#ff0000"/>
<rect x="28" y="195" width="1" height="36" fill="#32cd32"/>
<rect x="27" y="203" width="3" height="21" fill="#32cd32"/>
<rect x="32" y="215" width="1" height="7" fill="#ff0000"/>
<rect x="31" y="217" width="3" height="3" fill="#ff0000"/>
<rect x="36" y="204" width="1" height="21" fill="#ff0000"/>
<rect x="35" y="210" width="3" height="8" fill="#ff0000"/>
<rect x="40" y="197" width="1" height="39" fill="#32cd32"/>
<rect x="39" y="210" width="3" height="17" fill="#32cd32"/>
<rect x="44" y="221" width="1" height="39" fill="#32cd32"/>
<rect x="43" y="226" width="3" height="29" fill="#32cd32"/>
<rect x="48" y="220" width="1" height="37" fill="#ff0000"/>
<rect x="47" y="233" width="3" height="23" fill="#ff0000"/>
<rect x="52" y="212" width="1" height="39" fill="#ff0000"/>
<rect x="51" y="216" width="3" height="18" fill="#ff0000"/>
<rect x="56" y="211" width="1" height="4" fill="#32cd32"/>
<rect x="55" y="211" width="3" height="4" fill="#32cd32"/>
<rect x="60" y="200" width="1" height="25" fill="#ff0000"/>
<rect x="59" y="207" width="3" height="8" fill="#ff0000"/>
<rect x="64" y="201" width="1" height="25" fill="#32cd32"/>
<rect x="63" y="206" width="3" height="3" fill="#32cd32"/>
<rect x="68" y="205" width="1" height="31" fill="#32cd32"/>
<rect x="67" y="207" width="3" height="4" fill="#32cd32"/>
<rect x="72" y="191" width="1" height="25" fill="#ff0000"/>
<rect x="71" y="194" width="3" height="17" fill="#ff0000"/>
<rect x="76" y="185" width="1" height="24" fill="#32cd32"/>
<rect x="75" y="194" width="3" height="4" fill="#32cd32"/>
<rect x="80" y="199" width="1" height="8" fill="#32cd32"/>
<rect x="79" y="200" width="3" height="6" fill="#32cd32"/>
<rect x="84" y="170" width="1" height="36" fill="#ff0000"/>
<rect x="83" y="180" width="3" height="25" fill="#ff0000"/>
<rect x="88" y="165" width="1" height="24" fill="#32cd32"/>
<rect x="87" y="180" width="3" height="9" fill="#32cd32"/>
<rect x="92" y="165" width="1" height="28" fill="#ff0000"/>
<rect x="91" y="165" width="3" height="24" fill="#ff0000"/>
<rect x="96" y="146" width="1" height="26" fill="#ff0000"/>
<rect x="95" y="152" width="3" height="15" fill="#ff0000"/>
<rect x="100" y="140" width="1" height="18" fill="#ff0000"/>
<rect x="99" y="149" width="3" height="5" fill="#ff0000"/>
<rect x="104" y="145" width="1" height="7" fill="#ff0000"/>
<rect x="103" y="147" width="3" height="3" fill="#ff0000"/>
<rect x="108" y="147" width="1" height="22" fill="#32cd32"/>
<rect x="107" y="147" width="3" height="6" fill="#32cd32"/>
<rect x="112" y="120" width="1" height="33" fill="#ff0000"/>
<rect x="111" y="125" width="3" height="28" fill="#ff0000"/>
<rect x="116" y="104" width="1" height="27" fill="#ff0000"/>
<rect x="115" y="108" width="3" height="19" fill="#ff0000"/>
<rect x="120" y="103" width="1" height="31" fill="#32cd32"/>
<rect x="119" y="107" width="3" height="25" fill="#32cd32"/>
<rect x="124" y="110" width="1" height="26" fill="#ff0000"/>
<rect x="123" y="129" width="3" height="3" fill="#ff0000"/>
<rect x="128" y="127" width="1" height="5" fill="#32cd32"/>
<rect x="127" y="127" width="3" height="2" fill="#32cd32"/>
<rect x="132" y="112" width="1" height="20" fill="#ff0000"/>
<rect x="131" y="118" width="3" height="12" fill="#ff0000"/>
<rect x="136" y="103" width="1" height="17" fill="#ff0000"/>
<rect x="135" y="109" width="3" height="10" fill="#ff0000"/>
<rect x="140" y="103" width="1" height="19" fill="#32cd32"/>
<rect x="139" y="109" width="3" height="6" fill="#32cd32"/>
<rect x="144" y="101" width="1" height="24" fill="#ff0000"/>
<rect x="143" y="101" width="3" height="14" fill="#ff0000"/>
<rect x="148" y="101" width="1" height="14" fill="#32cd32"/>
<rect x="147" y="103" width="3" height="2" fill="#32cd32"/>
<rect x="152" y="106" width="1" height="5" fill="#ff0000"/>
<rect x="151" y="106" width="3" height="2" fill="#ff0000"/>
<rect x="156" y="103" width="1" height="18" fill="#ff0000"/>
<rect x="155" y="105" width="3" height="2" fill="#ff0000"/>
<rect x="160" y="103" width="1" height="48" fill="#32cd32"/>
<rect x="159" y="105" width="3" height="39" fill="#32cd32"/>
<rect x="164" y="128" width="1" height="26" fill="#ff0000"/>
<rect x="163" y="128" width="3" height="16" fill="#ff0000"/>
<rect x="168" y="127" width="1" height="40" fill="#32cd32"/>
<rect x="167" y="128" width="3" height="27" fill="#32cd32"/>
<rect x="172" y="152" width="1" height="24" fill="#32cd32"/>
<rect x="171" y="154" width="3" height="9" fill="#32cd32"/>
<rect x="176" y="157" width="1" height="4" fill="#32cd32"/>
<rect x="175" y="160" width="3" height="1" fill="#32cd32"/>
<rect x="180" y="144" width="1" height="23" fill="#ff0000"/>
<rect x="179" y="152" width="3" height="9" fill="#ff0000"/>
<rect x="184" y="144" width="1" height="32" fill="#32cd32"/>
<rect x="183" y="151" width="3" height="19" fill="#32cd32"/>
<rect x="188" y="161" width="1" height="32" fill="#32cd32"/>
<rect x="187" y="168" width="3" height="21" fill="#32cd32"/>
<rect x="192" y="184" width="1" height="25" fill="#32cd32"/>
<rect x="191" y="187" width="3" height="21" fill="#32cd32"/>
<rect x="196" y="187" width="1" height="26" fill="#ff0000"/>
<rect x="195" y="188" width="3" height="20" fill="#ff0000"/>
<rect x="200" y="186" width="1" height="4" fill="#ff0000"/>
<rect x="199" y="188" width="3" height="2" fill="#ff0000"/>
<rect x="204" y="171" width="1" height="22" fill="#ff0000"/>
<rect x="203" y="182" width="3" height="8" fill="#ff0000"/>
<rect x="208" y="172" width="1" height="35" fill="#32cd32"/>
<rect x="207" y="182" width="3" height="20" fill="#32cd32"/>
<rect x="212" y="199" width="1" height="21" fill="#32cd32"/>
<rect x="211" y="201" width="3" height="16" fill="#32cd32"/>
<rect x="216" y="205" width="1" height="20" fill="#ff0000"/>
<rect x="215" y="212" width="3" height="5" fill="#ff0000"/>
<rect x="220" y="205" width="1" height="29" fill="#32cd32"/>
<rect x="219" y="212" width="3" height="19" fill="#32cd32"/>
<rect x="224" y="230" width="1" height="5" fill="#ff0000"/>
<rect x="223" y="231" width="3" height="3" fill="#ff0000"/>
<rect x="228" y="213" width="1" height="24" fill="#32cd32"/>
<rect x="227" y="231" width="3" height="4" fill="#32cd32"/>
<rect x="232" y="229" width="1" height="14" fill="#32cd32"/>
<rect x="231" y="233" width="3" height="5" fill="#32cd32"/>
<rect x="236" y="233" width="1" height="20" fill="#32cd32"/>
<rect x="235" y="236" width="3" height="11" fill="#32cd32"/>
<rect x="240" y="241" width="1" height="18" fill="#32cd32"/>
<rect x="239" y="244" width="3" height="15" fill="#32cd32"/>
<rect x="244" y="255" width="1" height="31" fill="#32cd32"/>
<rect x="243" y="257" width="3" height="25" fill="#32cd32"/>
<rect x="248" y="268" width="1" height="15" fill="#ff0000"/>
<rect x="247" y="269" width="3" height="13" fill="#ff0000"/>
<rect x="252" y="263" width="1" height="22" fill="#ff0000"/>
<rect x="251" y="268" width="3" height="4" fill="#ff0000"/>
<rect x="256" y="258" width="1" height="49" fill="#32cd32"/>
<rect x="255" y="268" width="3" height="12" fill="#32cd32"/>
<rect x="260" y="257" width="1" height="36" fill="#32cd32"/>
<rect x="259" y="278" width="3" height="12" fill="#32cd32"/>
<rect x="264" y="280" width="1" height="18" fill="#32cd32"/>
<rect x="263" y="284" width="3" height="12" fill="#32cd32"/>
<rect x="268" y="292" width="1" height="44" fill="#32cd32"/>
<rect x="267" y="294" width="3" height="41" fill="#32cd32"/>
<rect x="272" y="324" width="1" height="10" fill="#ff0000"/>
<rect x="271" y="325" width="3" height="9" fill="#ff0000"/>
<rect x="276" y="309" width="1" height="23" fill="#ff0000"/>
<rect x="275" y="311" width="3" height="15" fill="#ff0000"/>
<rect x="280" y="278" width="1" height="39" fill="#ff0000"/>
<rect x="279" y="279" width="3" height="33" fill="#ff0000"/>
<rect x="284" y="252" width="1" height="29" fill="#ff0000"/>
<rect x="283" y="259" width="3" height="21" fill="#ff0000"/>
<rect x="288" y="251" width="1" height="24" fill="#32cd32"/>
<rect x="287" y="259" width="3" height="12" fill="#32cd32"/>
<rect x="292" y="253" width="1" height="24" fill="#ff0000"/>
<rect x="291" y="259" width="3" height="12" fill="#ff0000"/>
<rect x="296" y="257" width="1" height="7" fill="#ff0000"/>
<rect x="295" y="260" width="3" height="3" fill="#ff0000"/>
<rect x="300" y="256" width="1" height="29" fill="#32cd32"/>
<rect x="299" y="260" width="3" height="17" fill="#32cd32"/>
<rect x="304" y="274" width="1" height="21" fill="#32cd32"/>
<rect x="303" y="275" width="3" height="14" fill="#32cd32"/>
<rect x="308" y="255" width="1" height="39" fill="#ff0000"/>
<rect x="307" y="260" width="3" height="29" fill="#ff0000"/>
<rect x="312" y="235" width="1" height="35" fill="#ff0000"/>
<rect x="311" y="256" width="3" height="5" fill="#ff0000"/>
<rect x="316" y="253" width="1" height="23" fill="#32cd32"/>
<rect x="315" y="256" width="3" height="20" fill="#32cd32"/>
<rect x="320" y="276" width="1" height="10" fill="#32cd32"/>
<rect x="319" y="277" width="3" height="6" fill="#32cd32"/>
<rect x="324" y="277" width="1" height="22" fill="#32cd32"/>
<rect x="323" y="282" width="3" height="5" fill="#32cd32"/>
<rect x="328" y="264" width="1" height="28" fill="#ff0000"/>
<rect x="327" y="268" width="3" height="18" fill="#ff0000"/>
<rect x="332" y="236" width="1" height="46" fill="#ff0000"/>
<rect x="331" y="240" width="3" height="30" fill="#ff0000"/>
<rect x="336" y="223" width="1" height="25" fill="#ff0000"/>
<rect x="335" y="232" width="3" height="9" fill="#ff0000"/>
<rect x="340" y="225" width="1" height="15" fill="#32cd32"/>
<rect x="339" y="231" width="3" height="4" fill="#32cd32"/>
<rect x="344" y="228" width="1" height="5" fill="#000000"/>
<rect x="343" y="232" width="3" height="1" fill="#000000"/>
<rect x="348" y="226" width="1" height="19" fill="#ff0000"/>
<rect x="347" y="230" width="3" height="3" fill="#ff0000"/>
<rect x="352" y="218" width="1" height="22" fill="#32cd32"/>
<rect x="351" y="229" width="3" height="3" fill="#32cd32"/>
<rect x="356" y="214" width="1" height="28" fill="#ff0000"/>
<rect x="355" y="220" width="3" height="12" fill="#ff0000"/>
<rect x="360" y="212" width="1" height="16" fill="#32cd32"/>
<rect x="359" y="220" width="3" height="6" fill="#32cd32"/>
<rect x="364" y="211" width="1" height="17" fill="#ff0000"/>
<rect x="363" y="214" width="3" height="12" fill="#ff0000"/>
<rect x="368" y="212" width="1" height="5" fill="#ff0000"/>
<rect x="367" y="216" width="3" height="1" fill="#ff0000"/>
<rect x="372" y="212" width="1" height="42" fill="#32cd32"/>
<rect x="371" y="215" width="3" height="34" fill="#32cd32"/>
<rect x="376" y="224" width="1" height="30" fill="#ff0000"/>
<rect x="375" y="228" width="3" height="21" fill="#ff0000"/>
<rect x="380" y="214" width="1" height="27" fill="#32cd32"/>
<rect x="379" y="228" width="3" height="10" fill="#32cd32"/>
<rect x="384" y="236" width="1" height="35" fill="#32cd32"/>
<rect x="383" y="236" width="3" height="28" fill="#32cd32"/>
<rect x="388" y="251" width="1" height="27" fill="#ff0000"/>
<rect x="387" y="252" width="3" height="12" fill="#ff0000"/>
<rect x="392" y="252" width="1" height="6" fill="#ff0000"/>
<rect x="391" y="255" width="3" height="1" fill="#ff0000"/>
<rect x="396" y="244" width="1" height="25" fill="#ff0000"/>
<rect x="395" y="254" width="3" height="2" fill="#ff0000"/>
<rect x="400" y="239" width="1" height="28" fill="#ff0000"/>
<rect x="399" y="240" width="3" height="16" fill="#ff0000"/>
<rect x="404" y="205" width="1" height="42" fill="#ff0000"/>
<rect x="403" y="209" width="3" height="34" fill="#ff0000"/>
<rect x="408" y="195" width="1" height="20" fill="#ff0000"/>
<rect x="407" y="209" width="3" height="3" fill="#ff0000"/>
<rect x="412" y="204" width="1" height="44" fill="#32cd32"/>
<rect x="411" y="210" width="3" height="33" fill="#32cd32"/>
<rect x="416" y="238" width="1" height="5" fill="#ff0000"/>
<rect x="415" y="238" width="3" height="2" fill="#ff0000"/>
<rect x="420" y="233" width="1" height="16" fill="#32cd32"/>
<rect x="419" y="238" width="3" height="3" fill="#32cd32"/>
<rect x="424" y="234" width="1" height="25" fill="#32cd32"/>
<rect x="423" y="239" width="3" height="14" fill="#32cd32"/>
<rect x="428" y="229" width="1" height="28" fill="#ff0000"/>
<rect x="427" y="238" width="3" height="15" fill="#ff0000"/>
<rect x="432" y="212" width="1" height="32" fill="#32cd32"/>
<rect x="431" y="238" width="3" height="1" fill="#32cd32"/>
<rect x="436" y="237" width="1" height="21" fill="#32cd32"/>
<rect x="435" y="237" width="3" height="20" fill="#32cd32"/>
<rect x="440" y="251" width="1" height="8" fill="#ff0000"/>
<rect x="439" y="251" width="3" height="7" fill="#ff0000"/>
<rect x="444" y="251" width="1" height="44" fill="#32cd32"/>
<rect x="443" y="251" width="3" height="15" fill="#32cd32"/>
<rect x="448" y="255" width="1" height="26" fill="#ff0000"/>
<rect x="447" y="263" width="3" height="3" fill="#ff0000"/>
<rect x="452" y="252" width="1" height="40" fill="#32cd32"/>
<rect x="451" y="263" width="3" height="18" fill="#32cd32"/>
<rect x="456" y="280" width="1" height="43" fill="#32cd32"/>
<rect x="455" y="280" width="3" height="38" fill="#32cd32"/>
<rect x="460" y="313" width="1" height="36" fill="#32cd32"/>
<rect x="459" y="317" width="3" height="24" fill="#32cd32"/>
<rect x="464" y="334" width="1" height="5" fill="#ff0000"/>
<rect x="463" y="334" width="3" height="2" fill="#ff0000"/>
<rect x="468" y="299" width="1" height="39" fill="#ff0000"/>
<rect x="467" y="302" width="3" height="34" fill="#ff0000"/>
<rect x="472" y="272" width="1" height="48" fill="#ff0000"/>
<rect x="471" y="273" width="3" height="32" fill="#ff0000"/>
<rect x="476" y="264" width="1" height="20" fill="#32cd32"/>
<rect x="475" y="274" width="3" height="7" fill="#32cd32"/>
<rect x="480" y="258" width="1" height="28" fill="#ff0000"/>
<rect x="479" y="270" width="3" height="11" fill="#ff0000"/>
<rect x="484" y="270" width="1" height="41" fill="#32cd32"/>
<rect x="483" y="271" width="3" height="30" fill="#32cd32"/>
<rect x="488" y="294" width="1" height="7" fill="#32cd32"/>
<rect x="487" y="296" width="3" height="4" fill="#32cd32"/>
<rect x="492" y="276" width="1" height="29" fill="#ff0000"/>
<rect x="491" y="277" width="3" height="22" fill="#ff0000"/>
<rect x="496" y="268" width="1" height="17" fill="#ff0000"/>
<rect x="495" y="269" width="3" height="10" fill="#ff0000"/>
<rect x="500" y="248" width="1" height="25" fill="#ff0000"/>
<rect x="499" y="254" width="3" height="17" fill="#ff0000"/>
<rect x="504" y="224" width="1" height="46" fill="#32cd32"/>
<rect x="503" y="255" width="3" height="9" fill="#32cd32"/>
<rect x="508" y="252" width="1" height="35" fill="#32cd32"/>
<rect x="507" y="262" width="3" height="18" fill="#32cd32"/>
<rect x="512" y="267" width="1" height="12" fill="#ff0000"/>
<rect x="511" y="269" width="3" height="9" fill="#ff0000"/>
<rect x="516" y="268" width="1" height="29" fill="#32cd32"/>
<rect x="515" y="269" width="3" height="8" fill="#32cd32"/>
<rect x="520" y="264" width="1" height="26" fill="#ff0000"/>
<rect x="519" y="269" width="3" height="8" fill="#ff0000"/>
<rect x="524" y="242" width="1" height="30" fill="#ff0000"/>
<rect x="523" y="249" width="3" height="21" fill="#ff0000"/>
<rect x="528" y="238" width="1" height="30" fill="#32cd32"/>
<rect x="527" y="248" width="3" height="5" fill="#32cd32"/>
<rect x="532" y="233" width="1" height="30" fill="#32cd32"/>
<rect x="531" y="251" width="3" height="3" fill="#32cd32"/>
<rect x="536" y="255" width="1" height="7" fill="#32cd32"/>
<rect x="535" y="257" width="3" height="3" fill="#32cd32"/>
<rect x="540" y="235" width="1" height="26" fill="#ff0000"/>
<rect x="539" y="252" width="3" height="8" fill="#ff0000"/>
<rect x="544" y="231" width="1" height="25" fill="#ff0000"/>
<rect x="543" y="234" width="3" height="20" fill="#ff0000"/>
<rect x="548" y="209" width="1" height="30" fill="#ff0000"/>
<rect x="547" y="233" width="3" height="4" fill="#ff0000"/>
<rect x="552" y="232" width="1" height="61" fill="#32cd32"/>
<rect x="551" y="233" width="3" height="32" fill="#32cd32"/>
<rect x="556" y="229" width="1" height="44" fill="#ff0000"/>
<rect x="555" y="230" width="3" height="34" fill="#ff0000"/>
<rect x="560" y="250" width="1" height="6" fill="#ff0000"/>
<rect x="559" y="251" width="3" height="4" fill="#ff0000"/>
<rect x="564" y="216" width="1" height="42" fill="#ff0000"/>
<rect x="563" y="227" width="3" height="29" fill="#ff0000"/>
<rect x="568" y="206" width="1" height="24" fill="#ff0000"/>
<rect x="567" y="218" width="3" height="4" fill="#ff0000"/>
<rect x="572" y="199" width="1" height="27" fill="#ff0000"/>
<rect x="571" y="204" width="3" height="17" fill="#ff0000"/>
<rect x="576" y="181" width="1" height="33" fill="#ff0000"/>
<rect x="575" y="186" width="3" height="19" fill="#ff0000"/>
<rect x="580" y="166" width="1" height="37" fill="#ff0000"/>
<rect x="579" y="171" width="3" height="17" fill="#ff0000"/>
<rect x="584" y="160" width="1" height="20" fill="#ff0000"/>
<rect x="583" y="161" width="3" height="12" fill="#ff0000"/>
<rect x="588" y="140" width="1" height="59" fill="#32cd32"/>
<rect x="587" y="161" width="3" height="30" fill="#32cd32"/>
<rect x="592" y="181" width="1" height="46" fill="#32cd32"/>
<rect x="591" y="189" width="3" height="29" fill="#32cd32"/>
<rect x="596" y="185" width="1" height="33" fill="#ff0000"/>
<rect x="595" y="194" width="3" height="24" fill="#ff0000"/>
<rect x="600" y="172" width="1" height="32" fill="#ff0000"/>
<rect x="599" y="173" width="3" height="23" fill="#ff0000"/>
<rect x="604" y="172" width="1" height="33" fill="#32cd32"/>
<rect x="603" y="173" width="3" height="32" fill="#32cd32"/>
<rect x="608" y="201" width="1" height="7" fill="#ff0000"/>
<rect x="607" y="201" width="3" height="6" fill="#ff0000"/>
<rect x="612" y="203" width="1" height="50" fill="#32cd32"/>
<rect x="611" y="203" width="3" height="44" fill="#32cd32"/>
<rect x="616" y="233" width="1" height="30" fill="#32cd32"/>
<rect x="615" y="246" width="3" height="6" fill="#32cd32"/>
<rect x="620" y="203" width="1" height="53" fill="#ff0000"/>
<rect x="619" y="207" width="3" height="45" fill="#ff0000"/>
<rect x="624" y="161" width="1" height="48" fill="#ff0000"/>
<rect x="623" y="166" width="3" height="41" fill="#ff0000"/>
<rect x="628" y="150" width="1" height="27" fill="#ff0000"/>
<rect x="627" y="154" width="3" height="13" fill="#ff0000"/>
<rect x="632" y="152" width="1" height="7" fill="#ff0000"/>
<rect x="631" y="155" width="3" height="3" fill="#ff0000"/>
<rect x="636" y="147" width="1" height="24" fill="#32cd32"/>
<rect x="635" y="154" width="3" height="8" fill="#32cd32"/>
<rect x="640" y="124" width="1" height="44" fill="#ff0000"/>
<rect x="639" y="131" width="3" height="31" fill="#ff0000"/>
<rect x="644" y="111" width="1" height="26" fill="#ff0000"/>
<rect x="643" y="115" width="3" height="17" fill="#ff0000"/>
<rect x="648" y="102" width="1" height="29" fill="#ff0000"/>
<rect x="647" y="110" width="3" height="5" fill="#ff0000"/>
<rect x="652" y="98" width="1" height="20" fill="#ff0000"/>
<rect x="651" y="105" width="3" height="6" fill="#ff0000"/>
<rect x="656" y="105" width="1" height="5" fill="#ff0000"/>
<rect x="655" y="107" width="3" height="2" fill="#ff0000"/>
<rect x="660" y="97" width="1" height="34" fill="#32cd32"/>
<rect x="659" y="107" width="3" height="11" fill="#32cd32"/>
<rect x="664" y="102" width="1" height="33" fill="#ff0000"/>
<rect x="663" y="108" width="3" height="9" fill="#ff0000"/>
<rect x="668" y="98" width="1" height="21" fill="#32cd32"/>
<rect x="667" y="108" width="3" height="7" fill="#32cd32"/>
<rect x="672" y="103" width="1" height="26" fill="#32cd32"/>
<rect x="671" y="113" width="3" height="7" fill="#32cd32"/>
<rect x="676" y="103" width="1" height="25" fill="#ff0000"/>
<rect x="675" y="116" width="3" height="4" fill="#ff0000"/>
<rect x="680" y="117" width="1" height="6" fill="#32cd32"/>
<rect x="679" y="119" width="3" height="3" fill="#32cd32"/>
<rect x="684" y="90" width="1" height="34" fill="#ff0000"/>
<rect x="683" y="95" width="3" height="27" fill="#ff0000"/>
<rect x="688" y="44" width="1" height="57" fill="#ff0000"/>
<rect x="687" y="77" width="3" height="21" fill="#ff0000"/>
<rect x="692" y="73" width="1" height="49" fill="#32cd32"/>
<rect x="691" y="76" width="3" height="38" fill="#32cd32"/>
<rect x="696" y="108" width="1" height="23" fill="#32cd32"/>
<rect x="695" y="110" width="3" height="15" fill="#32cd32"/>
<rect x="700" y="117" width="1" height="31" fill="#32cd32"/>
<rect x="699" y="123" width="3" height="11" fill="#32cd32"/>
<rect x="704" y="130" width="1" height="10" fill="#32cd32"/>
<rect x="703" y="131" width="3" height="9" fill="#32cd32"/>
<rect x="708" y="131" width="1" height="24" fill="#32cd32"/>
<rect x="707" y="137" width="3" height="17" fill="#32cd32"/>
<rect x="712" y="118" width="1" height="41" fill="#ff0000"/>
<rect x="711" y="134" width="3" height="19" fill="#ff0000"/>
<rect x="716" y="125" width="1" height="38" fill="#32cd32"/>
<rect x="715" y="135" width="3" height="3" fill="#32cd32"/>
<rect x="720" y="127" width="1" height="33" fill="#32cd32"/>
<rect x="719" y="135" width="3" height="23" fill="#32cd32"/>
<rect x="724" y="152" width="1" height="12" fill="#32cd32"/>
<rect x="723" y="155" width="3" height="8" fill="#32cd32"/>
<rect x="728" y="156" width="1" height="7" fill="#32cd32"/>
<rect x="727" y="157" width="3" height="4" fill="#32cd32"/>
<rect x="732" y="159" width="1" height="26" fill="#32cd32"/>
<rect x="731" y="159" width="3" height="20" fill="#32cd32"/>
<rect x="736" y="159" width="1" height="25" fill="#ff0000"/>
<rect x="735" y="161" width="3" height="18" fill="#ff0000"/>
<rect x="740" y="133" width="1" height="39" fill="#ff0000"/>
<rect x="739" y="139" width="3" height="23" fill="#ff0000"/>
<rect x="744" y="132" width="1" height="46" fill="#32cd32"/>
<rect x="743" y="139" width="3" height="37" fill="#32cd32"/>
<rect x="748" y="171" width="1" height="61" fill="#32cd32"/>
<rect x="747" y="175" width="3" height="54" fill="#32cd32"/>
<rect x="752" y="227" width="1" height="6" fill="#32cd32"/>
<rect x="751" y="227" width="3" height="6" fill="#32cd32"/>
<rect x="756" y="231" width="1" height="44" fill="#32cd32"/>
<rect x="755" y="232" width="3" height="24" fill="#32cd32"/>
<rect x="760" y="233" width="1" height="49" fill="#32cd32"/>
<rect x="759" y="255" width="3" height="17" fill="#32cd32"/>
<rect x="764" y="249" width="1" height="41" fill="#32cd32"/>
<rect x="763" y="271" width="3" height="10" fill="#32cd32"/>
<rect x="768" y="262" width="1" height="49" fill="#32cd32"/>
<rect x="767" y="279" width="3" height="8" fill="#32cd32"/>
<rect x="772" y="254" width="1" height="45" fill="#32cd32"/>
<rect x="771" y="285" width="3" height="14" fill="#32cd32"/>
<rect x="776" y="300" width="1" height="7" fill="#32cd32"/>
<rect x="775" y="301" width="3" height="6" fill="#32cd32"/>
<rect x="780" y="302" width="1" height="19" fill="#32cd32"/>
<rect x="779" y="305" width="3" height="7" fill="#32cd32"/>
<rect x="784" y="268" width="1" height="44" fill="#ff0000"/>
<rect x="783" y="288" width="3" height="23" fill="#ff0000"/>
<rect x="788" y="217" width="1" height="79" fill="#ff0000"/>
<rect x="787" y="223" width="3" height="68" fill="#ff0000"/>
<rect x="792" y="216" width="1" height="85" fill="#32cd32"/>
<rect x="791" y="221" width="3" height="61" fill="#32cd32"/>
<rect x="796" y="274" width="1" height="35" fill="#32cd32"/>
<rect x="795" y="280" width="3" height="21" fill="#32cd32"/>
<rect x="800" y="309" width="1" height="7" fill="#32cd32"/>
<rect x="799" y="310" width="3" height="5" fill="#32cd32"/>
<rect x="804" y="311" width="1" height="48" fill="#32cd32"/>
<rect x="803" y="312" width="3" height="43" fill="#32cd32"/>
<rect x="808" y="339" width="1" height="35" fill="#32cd32"/>
<rect x="807" y="353" width="3" height="11" fill="#32cd32"/>
<rect x="812" y="310" width="1" height="57" fill="#32cd32"/>
<rect x="811" y="362" width="3" height="4" fill="#32cd32"/>
<rect x="816" y="353" width="1" height="56" fill="#32cd32"/>
<rect x="815" y="365" width="3" height="27" fill="#32cd32"/>
<rect x="820" y="362" width="1" height="32" fill="#ff0000"/>
<rect x="819" y="366" width="3" height="26" fill="#ff0000"/>
<rect x="824" y="353" width="1" height="9" fill="#ff0000"/>
<rect x="823" y="356" width="3" height="4" fill="#ff0000"/>
<rect x="828" y="340" width="1" height="50" fill="#ff0000"/>
<rect x="827" y="345" width="3" height="13" fill="#ff0000"/>
<rect x="832" y="315" width="1" height="32" fill="#ff0000"/>
<rect x="831" y="320" width="3" height="26" fill="#ff0000"/>
<rect x="836" y="312" width="1" height="45" fill="#32cd32"/>
<rect x="835" y="320" width="3" height="33" fill="#32cd32"/>
<rect x="840" y="301" width="1" height="54" fill="#ff0000"/>
<rect x="839" y="315" width="3" height="38" fill="#ff0000"/>
<rect x="844" y="301" width="1" height="33" fill="#32cd32"/>
<rect x="843" y="314" width="3" height="12" fill="#32cd32"/>
<rect x="848" y="303" width="1" height="6" fill="#32cd32"/>
<rect x="847" y="304" width="3" height="4" fill="#32cd32"/>
<rect x="852" y="277" width="1" height="33" fill="#ff0000"/>
<rect x="851" y="295" width="3" height="14" fill="#ff0000"/>
<rect x="856" y="281" width="1" height="29" fill="#ff0000"/>
<rect x="855" y="287" width="3" height="9" fill="#ff0000"/>
<rect x="860" y="281" width="1" height="37" fill="#32cd32"/>
<rect x="859" y="288" width="3" height="8" fill="#32cd32"/>
<rect x="864" y="285" width="1" height="25" fill="#ff0000"/>
<rect x="863" y="290" width="3" height="5" fill="#ff0000"/>
<rect x="868" y="260" width="1" height="36" fill="#ff0000"/>
<rect x="867" y="264" width="3" height="28" fill="#ff0000"/>
<rect x="872" y="260" width="1" height="7" fill="#ff0000"/>
<rect x="871" y="262" width="3" height="4" fill="#ff0000"/>
<rect x="876" y="245" width="1" height="21" fill="#ff0000"/>
<rect x="875" y="248" width="3" height="16" fill="#ff0000"/>
<rect x="880" y="244" width="1" height="25" fill="#32cd32"/>
<rect x="879" y="248" width="3" height="7" fill="#32cd32"/>
<rect x="884" y="232" width="1" height="35" fill="#32cd32"/>
<rect x="883" y="253" width="3" height="7" fill="#32cd32"/>
<rect x="888" y="215" width="1" height="58" fill="#ff0000"/>
<rect x="887" y="217" width="3" height="43" fill="#ff0000"/>
<rect x="892" y="209" width="1" height="37" fill="#32cd32"/>
<rect x="891" y="217" width="3" height="24" fill="#32cd32"/>
<rect x="896" y="238" width="1" height="9" fill="#32cd32"/>
<rect x="895" y="240" width="3" height="7" fill="#32cd32"/>
<rect x="900" y="231" width="1" height="25" fill="#32cd32"/>
<rect x="899" y="245" width="3" height="8" fill="#32cd32"/>
<rect x="904" y="226" width="1" height="34" fill="#ff0000"/>
<rect x="903" y="236" width="3" height="17" fill="#ff0000"/>
<rect x="908" y="231" width="1" height="27" fill="#32cd32"/>
<rect x="907" y="236" width="3" height="16" fill="#32cd32"/>
<rect x="912" y="248" width="1" height="46" fill="#32cd32"/>
<rect x="911" y="251" width="3" height="40" fill="#32cd32"/>
<rect x="916" y="272" width="1" height="46" fill="#32cd32"/>
<rect x="915" y="290" width="3" height="21" fill="#32cd32"/>
<rect x="920" y="319" width="1" height="8" fill="#32cd32"/>
<rect x="919" y="319" width="3" height="6" fill="#32cd32"/>
<rect x="924" y="318" width="1" height="55" fill="#32cd32"/>
<rect x="923" y="324" width="3" height="37" fill="#32cd32"/>
</g>
</g>
<rect x="1168" y="85" width="39" height="11" fill="#ff0000" class="c"/>
<text x="1172" y="94" font-size="10" fill="#fff" textLength="32" lengthAdjust="spacingAndGlyphs">0.75512</text>
<rect x="1168" y="151" width="39" height="11" fill="#ff0000" class="c"/>
<text x="1172" y="160" font-size="10" fill="#fff" textLength="32" lengthAdjust="spacingAndGlyphs">0.74002</text>
<rect x="1168" y="217" width="39" height="11" fill="#00ff00" class="c"/>
<text x="1172" y="226" font-size="10" fill="#fff" textLength="32" lengthAdjust="spacingAndGlyphs">0.72504</text>
<rect x="1168" y="282" width="39" height="11" fill="#0000cd" class="c"/>
<text x="1172" y="291" font-size="10" fill="#fff" textLength="32" lengthAdjust="spacingAndGlyphs">0.71013</text>
<rect x="1168" y="344" width="39" height="11" fill="#0000ff" class="c"/>
<text x="1172" y="353" font-size="10" fill="#fff" textLength="32" lengthAdjust="spacingAndGlyphs">0.69582</text>
<rect x="1168" y="355" width="39" height="11" fill="#000000" class="c"/>
<text x="1172" y="364" font-size="10" fill="#fff" textLength="32" lengthAdjust="spacingAndGlyphs">0.69360</text>
<path d="M6.5,35.5 L14.5,35.5 L10.5,31 Z" fill="#000"/>
<text x="20" y="36" font-size="10" fill="#000" textLength="67.5" lengthAdjust="spacingAndGlyphs">AUDUSD-,Daily</text>
<text x="94" y="36" font-size="10" fill="#000" textLength="32" lengthAdjust="spacingAndGlyphs">0.70192</text>
<text x="130.2" y="36" font-size="10" fill="#000" textLength="32" lengthAdjust="spacingAndGlyphs">0.70331</text>
<text x="166.5" y="36" font-size="10" fill="#000" textLength="32" lengthAdjust="spacingAndGlyphs">0.69102</text>
<text x="202.5" y="36" font-size="10" fill="#000" textLength="32" lengthAdjust="spacingAndGlyphs">0.69360</text>
<rect x="5" y="42" width="223" height="61" fill="#fff"/>
<g class="c">
<rect x="7" y="44" width="52" height="24" fill="#2c2cc8"/>
<rect x="175" y="44" width="51" height="24" fill="#2c2cc8"/>
<rect x="8" y="45" width="50" height="23" fill="url(#gt)"/>
<rect x="176" y="45" width="49" height="23" fill="url(#gt)"/>
<rect x="7" y="68" width="109" height="33" fill="#1c1cb0"/>
<rect x="118" y="68" width="108" height="33" fill="#1c1cb0"/>
<rect x="8" y="68" width="107" height="32" fill="url(#gb)"/>
<rect x="119" y="68" width="106" height="32" fill="url(#gb)"/>
<rect x="11" y="67" width="44" height="1" fill="#2020a8"/>
<rect x="178" y="67" width="44" height="1" fill="#2020a8"/>
<rect x="11" y="68" width="44" height="1" fill="#8c8cff"/>
<rect x="178" y="68" width="44" height="1" fill="#8c8cff"/>
</g>
<rect x="61.5" y="44.5" width="110" height="21" fill="#fff" stroke="#b4b4b4" stroke-width="1"/>
<rect x="62.5" y="45.5" width="19" height="19" fill="url(#gs)" stroke="#d0d0d0" stroke-width="1"/>
<rect x="151.5" y="45.5" width="19" height="19" fill="url(#gs)" stroke="#d0d0d0" stroke-width="1"/>
<path d="M69,53.2 L74.6,53.2 L71.8,56.6 Z" fill="#4a5fc0"/>
<path d="M158,56.6 L163.6,56.6 L160.8,53.2 Z" fill="#4a5fc0"/>
<text x="123.3" y="59.5" font-size="12.5" fill="#000" textLength="23.8" lengthAdjust="spacingAndGlyphs">2.00</text>
<text x="19.3" y="59.7" font-size="12" fill="#fff" textLength="24.8" lengthAdjust="spacingAndGlyphs">SELL</text>
<text x="187.5" y="59.7" font-size="12" fill="#fff" textLength="22.8" lengthAdjust="spacingAndGlyphs">BUY</text>
<text x="27.2" y="95.3" font-size="11" fill="#fff" font-weight="bold" textLength="23.5" lengthAdjust="spacingAndGlyphs">0.69</text>
<text x="56" y="95.2" font-size="31" fill="#fff" textLength="32.5" lengthAdjust="spacingAndGlyphs">36</text>
<text x="95" y="80.6" font-size="11" fill="#fff" font-weight="bold" textLength="6" lengthAdjust="spacingAndGlyphs">0</text>
<text x="137.2" y="95.3" font-size="11" fill="#fff" font-weight="bold" textLength="23.5" lengthAdjust="spacingAndGlyphs">0.69</text>
<text x="166.4" y="95.2" font-size="31" fill="#fff" textLength="32.8" lengthAdjust="spacingAndGlyphs">38</text>
<text x="205.8" y="80.6" font-size="11" fill="#fff" font-weight="bold" textLength="5.6" lengthAdjust="spacingAndGlyphs">2</text>
<text x="8.3" y="432" font-size="10" fill="#000" textLength="150.7" lengthAdjust="spacingAndGlyphs">MACD(12,26,9) -0.001608 0.001684</text>
<g class="c" fill="#c0c0c0">
<rect x="3" y="449" width="3" height="4" fill="#c0c0c0"/>
<rect x="7" y="449" width="3" height="5" fill="#c0c0c0"/>
<rect x="11" y="449" width="3" height="6" fill="#c0c0c0"/>
<rect x="15" y="449" width="3" height="8" fill="#c0c0c0"/>
<rect x="19" y="449" width="3" height="10" fill="#c0c0c0"/>
<rect x="23" y="449" width="3" height="9" fill="#c0c0c0"/>
<rect x="27" y="449" width="3" height="8" fill="#c0c0c0"/>
<rect x="31" y="449" width="3" height="8" fill="#c0c0c0"/>
<rect x="35" y="449" width="3" height="8" fill="#c0c0c0"/>
<rect x="39" y="449" width="3" height="9" fill="#c0c0c0"/>
<rect x="43" y="449" width="3" height="11" fill="#c0c0c0"/>
<rect x="47" y="449" width="3" height="12" fill="#c0c0c0"/>
<rect x="51" y="449" width="3" height="11" fill="#c0c0c0"/>
<rect x="55" y="449" width="3" height="9" fill="#c0c0c0"/>
<rect x="59" y="449" width="3" height="8" fill="#c0c0c0"/>
<rect x="63" y="449" width="3" height="7" fill="#c0c0c0"/>
<rect x="67" y="449" width="3" height="6" fill="#c0c0c0"/>
<rect x="71" y="449" width="3" height="4" fill="#c0c0c0"/>
<rect x="75" y="449" width="3" height="3" fill="#c0c0c0"/>
<rect x="79" y="449" width="3" height="2" fill="#c0c0c0"/>
<rect x="83" y="448" width="3" height="1" fill="#c0c0c0"/>
<rect x="87" y="447" width="3" height="2" fill="#c0c0c0"/>
<rect x="91" y="445" width="3" height="4" fill="#c0c0c0"/>
<rect x="95" y="443" width="3" height="6" fill="#c0c0c0"/>
<rect x="99" y="440" width="3" height="9" fill="#c0c0c0"/>
<rect x="103" y="439" width="3" height="10" fill="#c0c0c0"/>
<rect x="107" y="438" width="3" height="11" fill="#c0c0c0"/>
<rect x="111" y="436" width="3" height="13" fill="#c0c0c0"/>
<rect x="115" y="434" width="3" height="15" fill="#c0c0c0"/>
<rect x="119" y="432" width="3" height="17" fill="#c0c0c0"/>
<rect x="123" y="432" width="3" height="17" fill="#c0c0c0"/>
<rect x="127" y="432" width="3" height="17" fill="#c0c0c0"/>
<rect x="131" y="432" width="3" height="17" fill="#c0c0c0"/>
<rect x="135" y="432" width="3" height="17" fill="#c0c0c0"/>
<rect x="139" y="432" width="3" height="17" fill="#c0c0c0"/>
<rect x="143" y="431" width="3" height="18" fill="#c0c0c0"/>
<rect x="147" y="431" width="3" height="18" fill="#c0c0c0"/>
<rect x="151" y="432" width="3" height="17" fill="#c0c0c0"/>
<rect x="155" y="432" width="3" height="17" fill="#c0c0c0"/>
<rect x="159" y="433" width="3" height="16" fill="#c0c0c0"/>
<rect x="163" y="435" width="3" height="14" fill="#c0c0c0"/>
<rect x="167" y="438" width="3" height="11" fill="#c0c0c0"/>
<rect x="171" y="441" width="3" height="8" fill="#c0c0c0"/>
<rect x="175" y="443" width="3" height="6" fill="#c0c0c0"/>
<rect x="179" y="444" width="3" height="5" fill="#c0c0c0"/>
<rect x="183" y="446" width="3" height="3" fill="#c0c0c0"/>
<rect x="187" y="448" width="3" height="1" fill="#c0c0c0"/>
<rect x="191" y="449" width="3" height="6" fill="#c0c0c0"/>
<rect x="195" y="449" width="3" height="7" fill="#c0c0c0"/>
<rect x="199" y="449" width="3" height="8" fill="#c0c0c0"/>
<rect x="203" y="449" width="3" height="9" fill="#c0c0c0"/>
<rect x="207" y="449" width="3" height="10" fill="#c0c0c0"/>
<rect x="211" y="449" width="3" height="12" fill="#c0c0c0"/>
<rect x="215" y="449" width="3" height="13" fill="#c0c0c0"/>
<rect x="219" y="449" width="3" height="15" fill="#c0c0c0"/>
<rect x="223" y="449" width="3" height="16" fill="#c0c0c0"/>
<rect x="227" y="449" width="3" height="17" fill="#c0c0c0"/>
<rect x="231" y="449" width="3" height="18" fill="#c0c0c0"/>
<rect x="235" y="449" width="3" height="20" fill="#c0c0c0"/>
<rect x="239" y="449" width="3" height="21" fill="#c0c0c0"/>
<rect x="243" y="449" width="3" height="23" fill="#c0c0c0"/>
<rect x="247" y="449" width="3" height="24" fill="#c0c0c0"/>
<rect x="251" y="449" width="3" height="25" fill="#c0c0c0"/>
<rect x="255" y="449" width="3" height="25" fill="#c0c0c0"/>
<rect x="259" y="449" width="3" height="26" fill="#c0c0c0"/>
<rect x="263" y="449" width="3" height="27" fill="#c0c0c0"/>
<rect x="267" y="449" width="3" height="30" fill="#c0c0c0"/>
<rect x="271" y="449" width="3" height="31" fill="#c0c0c0"/>
<rect x="275" y="449" width="3" height="31" fill="#c0c0c0"/>
<rect x="279" y="449" width="3" height="27" fill="#c0c0c0"/>
<rect x="283" y="449" width="3" height="25" fill="#c0c0c0"/>
<rect x="287" y="449" width="3" height="23" fill="#c0c0c0"/>
<rect x="291" y="449" width="3" height="20" fill="#c0c0c0"/>
<rect x="295" y="449" width="3" height="18" fill="#c0c0c0"/>
<rect x="299" y="449" width="3" height="17" fill="#c0c0c0"/>
<rect x="303" y="449" width="3" height="15" fill="#c0c0c0"/>
<rect x="307" y="449" width="3" height="14" fill="#c0c0c0"/>
<rect x="311" y="449" width="3" height="12" fill="#c0c0c0"/>
<rect x="315" y="449" width="3" height="11" fill="#c0c0c0"/>
<rect x="319" y="449" width="3" height="11" fill="#c0c0c0"/>
<rect x="323" y="449" width="3" height="11" fill="#c0c0c0"/>
<rect x="327" y="449" width="3" height="10" fill="#c0c0c0"/>
<rect x="331" y="449" width="3" height="8" fill="#c0c0c0"/>
<rect x="335" y="449" width="3" height="5" fill="#c0c0c0"/>
<rect x="339" y="449" width="3" height="3" fill="#c0c0c0"/>
<rect x="343" y="448" width="3" height="1" fill="#c0c0c0"/>
<rect x="347" y="447" width="3" height="2" fill="#c0c0c0"/>
<rect x="351" y="446" width="3" height="3" fill="#c0c0c0"/>
<rect x="355" y="444" width="3" height="5" fill="#c0c0c0"/>
<rect x="359" y="443" width="3" height="6" fill="#c0c0c0"/>
<rect x="363" y="442" width="3" height="7" fill="#c0c0c0"/>
<rect x="367" y="441" width="3" height="8" fill="#c0c0c0"/>
<rect x="371" y="443" width="3" height="6" fill="#c0c0c0"/>
<rect x="375" y="443" width="3" height="6" fill="#c0c0c0"/>
<rect x="379" y="443" width="3" height="6" fill="#c0c0c0"/>
<rect x="383" y="445" width="3" height="4" fill="#c0c0c0"/>
<rect x="387" y="446" width="3" height="3" fill="#c0c0c0"/>
<rect x="391" y="448" width="3" height="1" fill="#c0c0c0"/>
<rect x="395" y="448" width="3" height="1" fill="#c0c0c0"/>
<rect x="399" y="448" width="3" height="1" fill="#c0c0c0"/>
<rect x="403" y="446" width="3" height="3" fill="#c0c0c0"/>
<rect x="407" y="444" width="3" height="5" fill="#c0c0c0"/>
<rect x="411" y="445" width="3" height="4" fill="#c0c0c0"/>
<rect x="415" y="446" width="3" height="3" fill="#c0c0c0"/>
<rect x="419" y="446" width="3" height="3" fill="#c0c0c0"/>
<rect x="423" y="447" width="3" height="2" fill="#c0c0c0"/>
<rect x="427" y="446" width="3" height="3" fill="#c0c0c0"/>
<rect x="431" y="447" width="3" height="2" fill="#c0c0c0"/>
<rect x="435" y="449" width="3" height="2" fill="#c0c0c0"/>
<rect x="439" y="449" width="3" height="2" fill="#c0c0c0"/>
<rect x="443" y="449" width="3" height="4" fill="#c0c0c0"/>
<rect x="447" y="449" width="3" height="5" fill="#c0c0c0"/>
<rect x="451" y="449" width="3" height="6" fill="#c0c0c0"/>
<rect x="455" y="449" width="3" height="10" fill="#c0c0c0"/>
<rect x="459" y="449" width="3" height="14" fill="#c0c0c0"/>
<rect x="463" y="449" width="3" height="17" fill="#c0c0c0"/>
<rect x="467" y="449" width="3" height="17" fill="#c0c0c0"/>
<rect x="471" y="449" width="3" height="15" fill="#c0c0c0"/>
<rect x="475" y="449" width="3" height="14" fill="#c0c0c0"/>
<rect x="479" y="449" width="3" height="12" fill="#c0c0c0"/>
<rect x="483" y="449" width="3" height="12" fill="#c0c0c0"/>
<rect x="487" y="449" width="3" height="12" fill="#c0c0c0"/>
<rect x="491" y="449" width="3" height="11" fill="#c0c0c0"/>
<rect x="495" y="449" width="3" height="9" fill="#c0c0c0"/>
<rect x="499" y="449" width="3" height="7" fill="#c0c0c0"/>
<rect x="503" y="449" width="3" height="6" fill="#c0c0c0"/>
<rect x="507" y="449" width="3" height="5" fill="#c0c0c0"/>
<rect x="511" y="449" width="3" height="5" fill="#c0c0c0"/>
<rect x="515" y="449" width="3" height="4" fill="#c0c0c0"/>
<rect x="519" y="449" width="3" height="4" fill="#c0c0c0"/>
<rect x="523" y="449" width="3" height="2" fill="#c0c0c0"/>
<rect x="527" y="448" width="3" height="1" fill="#c0c0c0"/>
<rect x="531" y="447" width="3" height="2" fill="#c0c0c0"/>
<rect x="535" y="447" width="3" height="2" fill="#c0c0c0"/>
<rect x="539" y="446" width="3" height="3" fill="#c0c0c0"/>
<rect x="543" y="444" width="3" height="5" fill="#c0c0c0"/>
<rect x="547" y="443" width="3" height="6" fill="#c0c0c0"/>
<rect x="551" y="444" width="3" height="5" fill="#c0c0c0"/>
<rect x="555" y="443" width="3" height="6" fill="#c0c0c0"/>
<rect x="559" y="443" width="3" height="6" fill="#c0c0c0"/>
<rect x="563" y="442" width="3" height="7" fill="#c0c0c0"/>
<rect x="567" y="442" width="3" height="7" fill="#c0c0c0"/>
<rect x="571" y="439" width="3" height="10" fill="#c0c0c0"/>
<rect x="575" y="436" width="3" height="13" fill="#c0c0c0"/>
<rect x="579" y="434" width="3" height="15" fill="#c0c0c0"/>
<rect x="583" y="431" width="3" height="18" fill="#c0c0c0"/>
<rect x="587" y="431" width="3" height="18" fill="#c0c0c0"/>
<rect x="591" y="433" width="3" height="16" fill="#c0c0c0"/>
<rect x="595" y="433" width="3" height="16" fill="#c0c0c0"/>
<rect x="599" y="432" width="3" height="17" fill="#c0c0c0"/>
<rect x="603" y="433" width="3" height="16" fill="#c0c0c0"/>
<rect x="607" y="435" width="3" height="14" fill="#c0c0c0"/>
<rect x="611" y="439" width="3" height="10" fill="#c0c0c0"/>
<rect x="615" y="442" width="3" height="7" fill="#c0c0c0"/>
<rect x="619" y="442" width="3" height="7" fill="#c0c0c0"/>
<rect x="623" y="439" width="3" height="10" fill="#c0c0c0"/>
<rect x="627" y="437" width="3" height="12" fill="#c0c0c0"/>
<rect x="631" y="435" width="3" height="14" fill="#c0c0c0"/>
<rect x="635" y="434" width="3" height="15" fill="#c0c0c0"/>
<rect x="639" y="432" width="3" height="17" fill="#c0c0c0"/>
<rect x="643" y="429" width="3" height="20" fill="#c0c0c0"/>
<rect x="647" y="427" width="3" height="22" fill="#c0c0c0"/>
<rect x="651" y="425" width="3" height="24" fill="#c0c0c0"/>
<rect x="655" y="424" width="3" height="25" fill="#c0c0c0"/>
<rect x="659" y="424" width="3" height="25" fill="#c0c0c0"/>
<rect x="663" y="424" width="3" height="25" fill="#c0c0c0"/>
<rect x="667" y="424" width="3" height="25" fill="#c0c0c0"/>
<rect x="671" y="425" width="3" height="24" fill="#c0c0c0"/>
<rect x="675" y="426" width="3" height="23" fill="#c0c0c0"/>
<rect x="679" y="427" width="3" height="22" fill="#c0c0c0"/>
<rect x="683" y="427" width="3" height="22" fill="#c0c0c0"/>
<rect x="687" y="426" width="3" height="23" fill="#c0c0c0"/>
<rect x="691" y="426" width="3" height="23" fill="#c0c0c0"/>
<rect x="695" y="429" width="3" height="20" fill="#c0c0c0"/>
<rect x="699" y="432" width="3" height="17" fill="#c0c0c0"/>
<rect x="703" y="434" width="3" height="15" fill="#c0c0c0"/>
<rect x="707" y="437" width="3" height="12" fill="#c0c0c0"/>
<rect x="711" y="439" width="3" height="10" fill="#c0c0c0"/>
<rect x="715" y="440" width="3" height="9" fill="#c0c0c0"/>
<rect x="719" y="442" width="3" height="7" fill="#c0c0c0"/>
<rect x="723" y="445" width="3" height="4" fill="#c0c0c0"/>
<rect x="727" y="447" width="3" height="2" fill="#c0c0c0"/>
<rect x="731" y="449" width="3" height="1" fill="#c0c0c0"/>
<rect x="735" y="449" width="3" height="2" fill="#c0c0c0"/>
<rect x="739" y="449" width="3" height="1" fill="#c0c0c0"/>
<rect x="743" y="449" width="3" height="4" fill="#c0c0c0"/>
<rect x="747" y="449" width="3" height="9" fill="#c0c0c0"/>
<rect x="751" y="449" width="3" height="12" fill="#c0c0c0"/>
<rect x="755" y="449" width="3" height="17" fill="#c0c0c0"/>
<rect x="759" y="449" width="3" height="21" fill="#c0c0c0"/>
<rect x="763" y="449" width="3" height="25" fill="#c0c0c0"/>
<rect x="767" y="449" width="3" height="27" fill="#c0c0c0"/>
<rect x="771" y="449" width="3" height="30" fill="#c0c0c0"/>
<rect x="775" y="449" width="3" height="33" fill="#c0c0c0"/>
<rect x="779" y="449" width="3" height="34" fill="#c0c0c0"/>
<rect x="783" y="449" width="3" height="34" fill="#c0c0c0"/>
<rect x="787" y="449" width="3" height="30" fill="#c0c0c0"/>
<rect x="791" y="449" width="3" height="30" fill="#c0c0c0"/>
<rect x="795" y="449" width="3" height="31" fill="#c0c0c0"/>
<rect x="799" y="449" width="3" height="31" fill="#c0c0c0"/>
<rect x="803" y="449" width="3" height="33" fill="#c0c0c0"/>
<rect x="807" y="449" width="3" height="36" fill="#c0c0c0"/>
<rect x="811" y="449" width="3" height="38" fill="#c0c0c0"/>
<rect x="815" y="449" width="3" height="40" fill="#c0c0c0"/>
<rect x="819" y="449" width="3" height="40" fill="#c0c0c0"/>
<rect x="823" y="449" width="3" height="39" fill="#c0c0c0"/>
<rect x="827" y="449" width="3" height="37" fill="#c0c0c0"/>
<rect x="831" y="449" width="3" height="34" fill="#c0c0c0"/>
<rect x="835" y="449" width="3" height="33" fill="#c0c0c0"/>
<rect x="839" y="449" width="3" height="29" fill="#c0c0c0"/>
<rect x="843" y="449" width="3" height="26" fill="#c0c0c0"/>
<rect x="847" y="449" width="3" height="23" fill="#c0c0c0"/>
<rect x="851" y="449" width="3" height="20" fill="#c0c0c0"/>
<rect x="855" y="449" width="3" height="16" fill="#c0c0c0"/>
<rect x="859" y="449" width="3" height="14" fill="#c0c0c0"/>
<rect x="863" y="449" width="3" height="11" fill="#c0c0c0"/>
<rect x="867" y="449" width="3" height="8" fill="#c0c0c0"/>
<rect x="871" y="449" width="3" height="5" fill="#c0c0c0"/>
<rect x="875" y="449" width="3" height="1" fill="#c0c0c0"/>
<rect x="879" y="446" width="3" height="3" fill="#c0c0c0"/>
<rect x="883" y="445" width="3" height="4" fill="#c0c0c0"/>
<rect x="887" y="442" width="3" height="7" fill="#c0c0c0"/>
<rect x="891" y="440" width="3" height="9" fill="#c0c0c0"/>
<rect x="895" y="439" width="3" height="10" fill="#c0c0c0"/>
<rect x="899" y="439" width="3" height="10" fill="#c0c0c0"/>
<rect x="903" y="438" width="3" height="11" fill="#c0c0c0"/>
<rect x="907" y="439" width="3" height="10" fill="#c0c0c0"/>
<rect x="911" y="442" width="3" height="7" fill="#c0c0c0"/>
<rect x="915" y="445" width="3" height="4" fill="#c0c0c0"/>
<rect x="919" y="449" width="3" height="1" fill="#c0c0c0"/>
<rect x="923" y="449" width="3" height="7" fill="#c0c0c0"/>
</g>
<path class="c" fill="#ff0000" d="M678 425h8v1h-8zM670 426h8v1h-8zM686 426h14v1h-14zM665 427h5v1h-5zM700 427h3v1h-3zM662 428h3v1h-3zM703 428h3v1h-3zM660 429h2v1h-2zM706 429h2v1h-2zM657 430h3v1h-3zM708 430h2v1h-2zM150 431h18v1h-18zM654 431h3v1h-3zM710 431h3v1h-3zM143 432h7v1h-7zM168 432h5v1h-5zM652 432h2v1h-2zM713 432h4v1h-4zM138 433h5v1h-5zM173 433h4v1h-4zM601 433h14v1h-14zM649 433h3v1h-3zM717 433h3v1h-3zM134 434h4v1h-4zM177 434h2v1h-2zM597 434h4v1h-4zM615 434h6v1h-6zM646 434h3v1h-3zM720 434h2v1h-2zM130 435h4v1h-4zM179 435h2v1h-2zM594 435h3v1h-3zM621 435h2v1h-2zM644 435h2v1h-2zM722 435h2v1h-2zM127 436h3v1h-3zM181 436h2v1h-2zM591 436h3v1h-3zM623 436h3v1h-3zM639 436h5v1h-5zM724 436h2v1h-2zM124 437h3v1h-3zM183 437h2v1h-2zM589 437h2v1h-2zM626 437h13v1h-13zM726 437h2v1h-2zM122 438h2v1h-2zM185 438h2v1h-2zM586 438h3v1h-3zM728 438h2v1h-2zM119 439h3v1h-3zM187 439h2v1h-2zM583 439h3v1h-3zM730 439h2v1h-2zM117 440h2v1h-2zM189 440h1v1h-1zM581 440h2v1h-2zM732 440h2v1h-2zM114 441h3v1h-3zM190 441h2v1h-2zM577 441h4v1h-4zM734 441h2v1h-2zM910 441h12v1h-12zM112 442h2v1h-2zM192 442h2v1h-2zM573 442h4v1h-4zM736 442h2v1h-2zM905 442h5v1h-5zM922 442h2v1h-2zM110 443h2v1h-2zM194 443h1v1h-1zM379 443h15v1h-15zM568 443h5v1h-5zM738 443h2v1h-2zM903 443h2v1h-2zM108 444h2v1h-2zM195 444h2v1h-2zM374 444h5v1h-5zM394 444h5v1h-5zM562 444h6v1h-6zM740 444h2v1h-2zM901 444h2v1h-2zM4 445h3v1h-3zM106 445h2v1h-2zM197 445h2v1h-2zM370 445h4v1h-4zM399 445h7v1h-7zM556 445h6v1h-6zM742 445h3v1h-3zM899 445h2v1h-2zM7 446h4v1h-4zM104 446h2v1h-2zM199 446h2v1h-2zM366 446h4v1h-4zM406 446h10v1h-10zM428 446h11v1h-11zM550 446h6v1h-6zM745 446h2v1h-2zM897 446h2v1h-2zM11 447h4v1h-4zM100 447h4v1h-4zM201 447h2v1h-2zM363 447h3v1h-3zM416 447h12v1h-12zM439 447h8v1h-8zM545 447h5v1h-5zM747 447h3v1h-3zM895 447h2v1h-2zM15 448h2v1h-2zM97 448h3v1h-3zM203 448h2v1h-2zM360 448h3v1h-3zM447 448h5v1h-5zM541 448h4v1h-4zM750 448h2v1h-2zM893 448h2v1h-2zM17 449h3v1h-3zM94 449h3v1h-3zM205 449h2v1h-2zM358 449h2v1h-2zM452 449h3v1h-3zM537 449h4v1h-4zM752 449h1v1h-1zM891 449h2v1h-2zM20 450h2v1h-2zM92 450h2v1h-2zM207 450h2v1h-2zM355 450h3v1h-3zM455 450h2v1h-2zM533 450h4v1h-4zM753 450h2v1h-2zM890 450h1v1h-1zM22 451h3v1h-3zM89 451h3v1h-3zM209 451h2v1h-2zM353 451h2v1h-2zM457 451h2v1h-2zM529 451h4v1h-4zM755 451h1v1h-1zM888 451h2v1h-2zM25 452h3v1h-3zM87 452h2v1h-2zM211 452h2v1h-2zM350 452h3v1h-3zM459 452h2v1h-2zM525 452h4v1h-4zM756 452h1v1h-1zM887 452h1v1h-1zM28 453h4v1h-4zM83 453h4v1h-4zM213 453h3v1h-3zM348 453h2v1h-2zM461 453h2v1h-2zM521 453h4v1h-4zM757 453h2v1h-2zM886 453h1v1h-1zM32 454h4v1h-4zM78 454h5v1h-5zM216 454h2v1h-2zM345 454h3v1h-3zM463 454h3v1h-3zM517 454h4v1h-4zM759 454h1v1h-1zM884 454h2v1h-2zM36 455h5v1h-5zM73 455h5v1h-5zM218 455h3v1h-3zM343 455h2v1h-2zM466 455h3v1h-3zM513 455h4v1h-4zM760 455h2v1h-2zM883 455h1v1h-1zM41 456h7v1h-7zM68 456h5v1h-5zM221 456h2v1h-2zM341 456h2v1h-2zM469 456h3v1h-3zM509 456h4v1h-4zM762 456h1v1h-1zM882 456h1v1h-1zM48 457h20v1h-20zM223 457h3v1h-3zM338 457h3v1h-3zM472 457h3v1h-3zM505 457h4v1h-4zM763 457h2v1h-2zM880 457h2v1h-2zM226 458h2v1h-2zM335 458h3v1h-3zM475 458h3v1h-3zM501 458h4v1h-4zM765 458h2v1h-2zM879 458h1v1h-1zM228 459h3v1h-3zM332 459h3v1h-3zM478 459h4v1h-4zM497 459h4v1h-4zM767 459h1v1h-1zM878 459h1v1h-1zM231 460h3v1h-3zM329 460h3v1h-3zM482 460h5v1h-5zM493 460h4v1h-4zM768 460h1v1h-1zM876 460h2v1h-2zM234 461h2v1h-2zM325 461h4v1h-4zM487 461h6v1h-6zM769 461h1v1h-1zM875 461h1v1h-1zM236 462h2v1h-2zM321 462h4v1h-4zM770 462h1v1h-1zM874 462h1v1h-1zM238 463h2v1h-2zM317 463h4v1h-4zM771 463h2v1h-2zM873 463h1v1h-1zM240 464h3v1h-3zM314 464h3v1h-3zM773 464h1v1h-1zM872 464h1v1h-1zM243 465h3v1h-3zM312 465h2v1h-2zM774 465h1v1h-1zM870 465h2v1h-2zM246 466h4v1h-4zM310 466h2v1h-2zM775 466h1v1h-1zM869 466h1v1h-1zM250 467h3v1h-3zM308 467h2v1h-2zM776 467h1v1h-1zM868 467h1v1h-1zM253 468h3v1h-3zM306 468h2v1h-2zM777 468h1v1h-1zM867 468h1v1h-1zM256 469h4v1h-4zM304 469h2v1h-2zM778 469h1v1h-1zM865 469h2v1h-2zM260 470h3v1h-3zM302 470h2v1h-2zM779 470h2v1h-2zM864 470h1v1h-1zM263 471h2v1h-2zM299 471h3v1h-3zM781 471h1v1h-1zM863 471h1v1h-1zM265 472h3v1h-3zM297 472h2v1h-2zM782 472h1v1h-1zM861 472h2v1h-2zM268 473h2v1h-2zM292 473h5v1h-5zM783 473h2v1h-2zM860 473h1v1h-1zM270 474h7v1h-7zM286 474h6v1h-6zM785 474h2v1h-2zM859 474h1v1h-1zM277 475h9v1h-9zM787 475h3v1h-3zM857 475h2v1h-2zM790 476h5v1h-5zM855 476h2v1h-2zM795 477h8v1h-8zM854 477h1v1h-1zM803 478h6v1h-6zM852 478h2v1h-2zM809 479h4v1h-4zM850 479h2v1h-2zM813 480h4v1h-4zM847 480h3v1h-3zM817 481h4v1h-4zM845 481h2v1h-2zM821 482h6v1h-6zM842 482h3v1h-3zM827 483h7v1h-7zM839 483h3v1h-3zM834 484h5v1h-5z"/>
<text x="8.3" y="506" font-size="10" fill="#000" textLength="67.5" lengthAdjust="spacingAndGlyphs">RSI(14) 33.7993</text>
<g class="c">
<line x1="5" y1="516.5" x2="1166" y2="516.5" stroke="#c0c0c0" stroke-width="1" stroke-dasharray="3,3"/>
<line x1="5" y1="545.5" x2="1166" y2="545.5" stroke="#c0c0c0" stroke-width="1" stroke-dasharray="3,3"/>
</g>
<path class="c" fill="#1e90ff" d="M114 514h2v1h-2zM112 515h2v1h-2zM116 515h1v2h-1zM687 515h1v1h-1zM111 516h1v2h-1zM136 516h2v1h-2zM144 516h2v1h-2zM580 516h5v1h-5zM651 516h2v1h-2zM686 516h1v1h-1zM688 516h1v2h-1zM117 517h1v1h-1zM134 517h2v1h-2zM138 517h1v1h-1zM142 517h2v1h-2zM146 517h2v1h-2zM578 517h2v1h-2zM585 517h1v2h-1zM649 517h2v1h-2zM653 517h2v1h-2zM685 517h1v1h-1zM110 518h1v1h-1zM118 518h1v1h-1zM132 518h2v1h-2zM139 518h1v1h-1zM141 518h1v1h-1zM148 518h5v1h-5zM577 518h1v1h-1zM642 518h7v1h-7zM655 518h2v1h-2zM684 518h1v1h-1zM689 518h1v2h-1zM97 519h8v1h-8zM109 519h1v2h-1zM119 519h1v2h-1zM130 519h2v1h-2zM140 519h1v1h-1zM153 519h4v1h-4zM576 519h1v1h-1zM586 519h1v2h-1zM640 519h2v1h-2zM657 519h2v1h-2zM662 519h4v1h-4zM683 519h1v1h-1zM94 520h3v1h-3zM105 520h2v1h-2zM127 520h3v1h-3zM156 520h1v1h-1zM574 520h2v1h-2zM639 520h1v1h-1zM659 520h3v1h-3zM666 520h4v1h-4zM682 520h1v1h-1zM690 520h1v2h-1zM888 520h1v1h-1zM93 521h1v1h-1zM107 521h2v1h-2zM120 521h7v1h-7zM157 521h1v3h-1zM573 521h1v1h-1zM587 521h1v2h-1zM638 521h1v1h-1zM670 521h9v1h-9zM681 521h1v1h-1zM887 521h1v1h-1zM889 521h1v1h-1zM92 522h1v1h-1zM363 522h6v1h-6zM571 522h2v1h-2zM600 522h1v1h-1zM626 522h9v1h-9zM637 522h1v1h-1zM679 522h2v1h-2zM691 522h1v2h-1zM886 522h1v2h-1zM890 522h1v2h-1zM91 523h1v1h-1zM355 523h3v1h-3zM361 523h2v1h-2zM368 523h1v1h-1zM404 523h5v1h-5zM544 523h5v1h-5zM569 523h2v1h-2zM588 523h1v1h-1zM598 523h2v1h-2zM601 523h1v2h-1zM624 523h2v1h-2zM635 523h2v1h-2zM90 524h1v1h-1zM158 524h1v2h-1zM353 524h2v1h-2zM358 524h3v1h-3zM369 524h1v2h-1zM403 524h1v2h-1zM409 524h1v2h-1zM543 524h1v1h-1zM549 524h1v2h-1zM564 524h5v1h-5zM589 524h1v1h-1zM597 524h1v1h-1zM623 524h1v1h-1zM692 524h1v2h-1zM875 524h2v1h-2zM885 524h1v1h-1zM891 524h1v1h-1zM904 524h1v1h-1zM84 525h2v1h-2zM89 525h1v1h-1zM334 525h19v1h-19zM542 525h1v1h-1zM556 525h1v1h-1zM563 525h1v1h-1zM590 525h1v2h-1zM596 525h1v1h-1zM602 525h1v1h-1zM622 525h1v2h-1zM873 525h2v1h-2zM877 525h4v1h-4zM884 525h1v1h-1zM892 525h2v1h-2zM902 525h2v1h-2zM905 525h1v1h-1zM83 526h1v1h-1zM86 526h3v1h-3zM159 526h1v3h-1zM332 526h2v1h-2zM370 526h1v3h-1zM402 526h1v2h-1zM410 526h1v2h-1zM524 526h2v1h-2zM541 526h1v1h-1zM550 526h1v2h-1zM555 526h1v2h-1zM557 526h1v1h-1zM562 526h1v2h-1zM594 526h2v1h-2zM603 526h1v2h-1zM693 526h2v1h-2zM868 526h5v1h-5zM881 526h3v1h-3zM894 526h3v1h-3zM900 526h2v1h-2zM906 526h2v1h-2zM72 527h5v1h-5zM82 527h1v2h-1zM164 527h1v1h-1zM331 527h1v2h-1zM376 527h2v1h-2zM500 527h1v1h-1zM523 527h1v1h-1zM526 527h8v1h-8zM538 527h3v1h-3zM558 527h1v1h-1zM591 527h1v1h-1zM593 527h1v1h-1zM621 527h1v1h-1zM695 527h2v1h-2zM867 527h1v1h-1zM897 527h3v1h-3zM908 527h1v1h-1zM71 528h1v1h-1zM77 528h1v1h-1zM162 528h2v1h-2zM165 528h1v2h-1zM375 528h1v1h-1zM378 528h3v1h-3zM401 528h1v2h-1zM411 528h1v2h-1zM498 528h2v1h-2zM501 528h2v1h-2zM522 528h1v1h-1zM534 528h4v1h-4zM551 528h1v2h-1zM554 528h1v1h-1zM559 528h1v1h-1zM561 528h1v1h-1zM592 528h1v1h-1zM604 528h5v1h-5zM620 528h1v1h-1zM697 528h2v1h-2zM866 528h1v1h-1zM909 528h1v2h-1zM69 529h2v1h-2zM78 529h2v1h-2zM81 529h1v1h-1zM160 529h2v1h-2zM330 529h1v1h-1zM371 529h1v2h-1zM374 529h1v2h-1zM381 529h1v2h-1zM497 529h1v1h-1zM503 529h2v1h-2zM521 529h1v1h-1zM553 529h1v2h-1zM560 529h1v1h-1zM609 529h1v2h-1zM619 529h1v2h-1zM699 529h3v1h-3zM712 529h5v1h-5zM740 529h1v1h-1zM854 529h4v1h-4zM865 529h1v1h-1zM56 530h7v1h-7zM68 530h1v1h-1zM80 530h1v1h-1zM160 530h1v1h-1zM166 530h1v1h-1zM329 530h1v2h-1zM399 530h2v1h-2zM412 530h1v2h-1zM414 530h4v1h-4zM428 530h5v1h-5zM494 530h3v1h-3zM505 530h1v1h-1zM511 530h3v1h-3zM518 530h3v1h-3zM552 530h1v2h-1zM702 530h3v1h-3zM711 530h1v1h-1zM717 530h1v1h-1zM739 530h1v1h-1zM741 530h1v2h-1zM851 530h3v1h-3zM858 530h7v1h-7zM910 530h1v2h-1zM53 531h3v1h-3zM63 531h5v1h-5zM167 531h1v2h-1zM308 531h5v1h-5zM372 531h2v1h-2zM382 531h1v2h-1zM397 531h2v1h-2zM413 531h1v1h-1zM418 531h3v1h-3zM426 531h2v1h-2zM433 531h1v1h-1zM479 531h2v1h-2zM492 531h2v1h-2zM506 531h2v1h-2zM509 531h2v1h-2zM514 531h4v1h-4zM610 531h1v1h-1zM618 531h1v2h-1zM705 531h1v1h-1zM710 531h1v1h-1zM718 531h1v1h-1zM738 531h1v1h-1zM788 531h1v2h-1zM849 531h2v1h-2zM24 532h1v1h-1zM52 532h1v1h-1zM178 532h2v1h-2zM291 532h3v1h-3zM307 532h1v2h-1zM313 532h2v1h-2zM328 532h1v1h-1zM372 532h1v1h-1zM389 532h3v1h-3zM395 532h2v1h-2zM421 532h2v1h-2zM425 532h1v1h-1zM434 532h1v1h-1zM472 532h2v1h-2zM477 532h2v1h-2zM481 532h1v1h-1zM491 532h1v1h-1zM508 532h1v1h-1zM611 532h1v2h-1zM706 532h2v1h-2zM709 532h1v1h-1zM719 532h1v1h-1zM737 532h1v1h-1zM742 532h1v1h-1zM789 532h1v2h-1zM847 532h2v1h-2zM911 532h1v2h-1zM23 533h1v2h-1zM25 533h1v1h-1zM34 533h2v1h-2zM50 533h2v1h-2zM168 533h3v1h-3zM175 533h3v1h-3zM180 533h1v1h-1zM284 533h2v1h-2zM289 533h2v1h-2zM294 533h3v1h-3zM315 533h2v1h-2zM327 533h1v1h-1zM383 533h1v2h-1zM387 533h2v1h-2zM392 533h3v1h-3zM423 533h2v1h-2zM435 533h1v1h-1zM438 533h3v1h-3zM471 533h1v2h-1zM474 533h3v1h-3zM482 533h1v2h-1zM490 533h1v1h-1zM617 533h1v2h-1zM708 533h1v1h-1zM720 533h2v1h-2zM736 533h1v1h-1zM743 533h1v2h-1zM787 533h1v3h-1zM840 533h2v1h-2zM845 533h2v1h-2zM26 534h1v1h-1zM32 534h2v1h-2zM36 534h2v1h-2zM49 534h1v1h-1zM171 534h4v1h-4zM181 534h2v1h-2zM283 534h1v1h-1zM286 534h3v1h-3zM297 534h2v1h-2zM306 534h1v1h-1zM317 534h2v1h-2zM326 534h1v1h-1zM385 534h2v1h-2zM436 534h2v1h-2zM441 534h1v1h-1zM489 534h1v1h-1zM612 534h2v1h-2zM722 534h7v1h-7zM735 534h1v1h-1zM790 534h1v2h-1zM839 534h1v1h-1zM842 534h3v1h-3zM912 534h2v1h-2zM22 535h1v2h-1zM27 535h1v1h-1zM30 535h2v1h-2zM38 535h2v1h-2zM48 535h1v1h-1zM183 535h1v1h-1zM282 535h1v1h-1zM299 535h2v1h-2zM305 535h1v2h-1zM319 535h4v1h-4zM325 535h1v1h-1zM384 535h1v1h-1zM442 535h2v1h-2zM446 535h2v1h-2zM470 535h1v1h-1zM483 535h1v1h-1zM486 535h3v1h-3zM614 535h3v1h-3zM729 535h1v1h-1zM734 535h1v1h-1zM744 535h1v1h-1zM832 535h1v1h-1zM838 535h1v2h-1zM914 535h2v1h-2zM28 536h2v1h-2zM40 536h1v1h-1zM47 536h1v2h-1zM184 536h1v1h-1zM200 536h4v1h-4zM281 536h1v1h-1zM301 536h2v1h-2zM323 536h2v1h-2zM444 536h2v1h-2zM448 536h1v1h-1zM469 536h1v2h-1zM484 536h2v1h-2zM730 536h2v1h-2zM733 536h1v1h-1zM745 536h1v2h-1zM786 536h1v4h-1zM791 536h1v2h-1zM831 536h1v1h-1zM833 536h1v1h-1zM916 536h2v1h-2zM4 537h4v1h-4zM21 537h1v1h-1zM41 537h1v1h-1zM185 537h1v1h-1zM196 537h4v1h-4zM204 537h2v1h-2zM280 537h1v2h-1zM303 537h2v1h-2zM449 537h2v1h-2zM732 537h1v1h-1zM830 537h1v1h-1zM834 537h2v1h-2zM837 537h1v1h-1zM918 537h2v1h-2zM8 538h4v1h-4zM20 538h1v2h-1zM42 538h1v2h-1zM46 538h1v1h-1zM186 538h2v1h-2zM195 538h1v1h-1zM206 538h2v1h-2zM451 538h1v1h-1zM468 538h1v2h-1zM746 538h1v2h-1zM792 538h2v1h-2zM829 538h1v1h-1zM836 538h1v1h-1zM920 538h1v1h-1zM12 539h2v1h-2zM45 539h1v2h-1zM188 539h1v1h-1zM194 539h1v2h-1zM208 539h1v1h-1zM279 539h1v2h-1zM452 539h1v1h-1zM794 539h3v1h-3zM827 539h2v1h-2zM921 539h1v1h-1zM14 540h2v1h-2zM18 540h2v1h-2zM43 540h1v1h-1zM189 540h1v1h-1zM209 540h2v1h-2zM215 540h2v1h-2zM453 540h1v1h-1zM467 540h1v2h-1zM747 540h1v2h-1zM785 540h1v3h-1zM797 540h2v1h-2zM825 540h2v1h-2zM922 540h1v1h-1zM16 541h2v1h-2zM44 541h1v1h-1zM190 541h2v1h-2zM193 541h1v1h-1zM211 541h1v1h-1zM213 541h2v1h-2zM217 541h2v1h-2zM278 541h1v2h-1zM454 541h1v2h-1zM799 541h2v1h-2zM823 541h2v1h-2zM923 541h1v1h-1zM192 542h1v1h-1zM212 542h1v1h-1zM219 542h1v1h-1zM466 542h1v2h-1zM748 542h5v1h-5zM801 542h1v1h-1zM821 542h2v1h-2zM220 543h2v1h-2zM277 543h1v2h-1zM455 543h1v1h-1zM753 543h1v1h-1zM784 543h1v2h-1zM802 543h2v1h-2zM820 543h1v1h-1zM222 544h12v1h-12zM456 544h1v1h-1zM465 544h1v2h-1zM754 544h2v1h-2zM804 544h2v1h-2zM819 544h1v1h-1zM234 545h2v1h-2zM276 545h1v1h-1zM457 545h1v1h-1zM756 545h2v1h-2zM783 545h1v1h-1zM806 545h8v1h-8zM818 545h1v1h-1zM236 546h3v1h-3zM248 546h7v1h-7zM275 546h1v1h-1zM458 546h2v1h-2zM462 546h3v1h-3zM758 546h4v1h-4zM782 546h1v2h-1zM814 546h2v1h-2zM817 546h1v1h-1zM239 547h2v1h-2zM247 547h1v1h-1zM255 547h5v1h-5zM274 547h1v2h-1zM460 547h2v1h-2zM762 547h9v1h-9zM816 547h1v1h-1zM241 548h1v1h-1zM246 548h1v1h-1zM260 548h3v1h-3zM771 548h3v1h-3zM781 548h1v1h-1zM242 549h2v1h-2zM245 549h1v1h-1zM263 549h1v1h-1zM273 549h1v1h-1zM774 549h3v1h-3zM780 549h1v1h-1zM244 550h1v1h-1zM264 550h1v1h-1zM272 550h1v1h-1zM777 550h3v1h-3zM265 551h2v1h-2zM270 551h2v1h-2zM267 552h1v1h-1zM269 552h1v1h-1zM268 553h1v1h-1z"/>
<g class="c">
<rect x="4" y="568" width="1" height="3" fill="#000"/>
<rect x="68" y="568" width="1" height="3" fill="#000"/>
<rect x="132" y="568" width="1" height="3" fill="#000"/>
<rect x="196" y="568" width="1" height="3" fill="#000"/>
<rect x="260" y="568" width="1" height="3" fill="#000"/>
<rect x="324" y="568" width="1" height="3" fill="#000"/>
<rect x="388" y="568" width="1" height="3" fill="#000"/>
<rect x="452" y="568" width="1" height="3" fill="#000"/>
<rect x="516" y="568" width="1" height="3" fill="#000"/>
<rect x="580" y="568" width="1" height="3" fill="#000"/>
<rect x="644" y="568" width="1" height="3" fill="#000"/>
<rect x="708" y="568" width="1" height="3" fill="#000"/>
<rect x="772" y="568" width="1" height="3" fill="#000"/>
<rect x="836" y="568" width="1" height="3" fill="#000"/>
<rect x="900" y="568" width="1" height="3" fill="#000"/>
</g>
<text x="4" y="580" font-size="10" fill="#000" textLength="51" lengthAdjust="spacingAndGlyphs">17 Sep 2021</text>
<text x="68" y="580" font-size="10" fill="#000" textLength="45" lengthAdjust="spacingAndGlyphs">6 Oct 2021</text>
<text x="132" y="580" font-size="10" fill="#000" textLength="51" lengthAdjust="spacingAndGlyphs">25 Oct 2021</text>
<text x="196" y="580" font-size="10" fill="#000" textLength="53" lengthAdjust="spacingAndGlyphs">12 Nov 2021</text>
<text x="260" y="580" font-size="10" fill="#000" textLength="46" lengthAdjust="spacingAndGlyphs">1 Dec 2021</text>
<text x="324" y="580" font-size="10" fill="#000" textLength="52" lengthAdjust="spacingAndGlyphs">20 Dec 2021</text>
<text x="388" y="580" font-size="10" fill="#000" textLength="45" lengthAdjust="spacingAndGlyphs">7 Jan 2022</text>
<text x="452" y="580" font-size="10" fill="#000" textLength="50" lengthAdjust="spacingAndGlyphs">26 Jan 2022</text>
<text x="516" y="580" font-size="10" fill="#000" textLength="51.5" lengthAdjust="spacingAndGlyphs">14 Feb 2022</text>
<text x="580" y="580" font-size="10" fill="#000" textLength="46.5" lengthAdjust="spacingAndGlyphs">4 Mar 2022</text>
<text x="644" y="580" font-size="10" fill="#000" textLength="52" lengthAdjust="spacingAndGlyphs">23 Mar 2022</text>
<text x="708" y="580" font-size="10" fill="#000" textLength="50.5" lengthAdjust="spacingAndGlyphs">11 Apr 2022</text>
<text x="772" y="580" font-size="10" fill="#000" textLength="50.5" lengthAdjust="spacingAndGlyphs">29 Apr 2022</text>
<text x="836" y="580" font-size="10" fill="#000" textLength="53.5" lengthAdjust="spacingAndGlyphs">18 May 2022</text>
<text x="900" y="580" font-size="10" fill="#000" textLength="44.5" lengthAdjust="spacingAndGlyphs">6 Jun 2022</text>
<rect x="0" y="588" width="1207" height="27" fill="#f0f0f0"/>
<rect x="0" y="588" width="1207" height="2" fill="#ececec"/>
<rect x="0" y="609" width="1207" height="2" fill="#f8f8f8"/>
<rect x="0" y="614" width="1207" height="1" fill="#b4b4b4"/>
<rect x="114" y="590" width="107" height="18" fill="#fff"/>
<g class="c">
<rect x="113" y="590" width="1" height="19" fill="#000"/>
<rect x="221" y="590" width="1" height="19" fill="#000"/>
<rect x="113" y="608" width="109" height="1" fill="#000"/>
<rect x="0" y="590" width="114" height="1" fill="#000"/>
<rect x="221" y="590" width="986" height="1" fill="#000"/>
<rect x="0" y="590" width="1" height="19" fill="#606060"/>
<rect x="1" y="591" width="1" height="18" fill="#fff"/>
</g>
<text x="16" y="605" font-size="13" fill="#6e6e6e" textLength="85" lengthAdjust="spacingAndGlyphs">EURUSD-,Daily</text>
<text x="123" y="605" font-size="13" fill="#000" textLength="87.5" lengthAdjust="spacingAndGlyphs">AUDUSD-,Daily</text>
<text x="233" y="605" font-size="13" fill="#6e6e6e" textLength="84" lengthAdjust="spacingAndGlyphs">USDCHF-,Daily</text>
<text x="340" y="605" font-size="13" fill="#6e6e6e" textLength="86" lengthAdjust="spacingAndGlyphs">USDCAD-,Daily</text>
<text x="449" y="605" font-size="13" fill="#6e6e6e" textLength="88" lengthAdjust="spacingAndGlyphs">USDCNH-,Daily</text>
<text x="560" y="605" font-size="13" fill="#6e6e6e" textLength="74" lengthAdjust="spacingAndGlyphs">XAUUSD-,H4</text>
<text x="656" y="605" font-size="13" fill="#6e6e6e" textLength="69" lengthAdjust="spacingAndGlyphs">UKOil-,Daily</text>
<text x="749" y="605" font-size="13" fill="#6e6e6e" textLength="68" lengthAdjust="spacingAndGlyphs">USOil-,Daily</text>
<text x="839" y="605" font-size="13" fill="#6e6e6e" textLength="54" lengthAdjust="spacingAndGlyphs">HK50-,H1</text>
<text x="915" y="605" font-size="13" fill="#6e6e6e" textLength="69" lengthAdjust="spacingAndGlyphs">EURCHF-,H1</text>
<text x="1009" y="605" font-size="13" fill="#6e6e6e" textLength="56" lengthAdjust="spacingAndGlyphs">USOil-,H4</text>
<text x="1088" y="605" font-size="13" fill="#6e6e6e" textLength="57" lengthAdjust="spacingAndGlyphs">UKOil-,H4</text>
<rect x="329" y="593" width="1" height="14" fill="#787878" class="c"/>
<rect x="437" y="593" width="1" height="14" fill="#787878" class="c"/>
<rect x="550" y="593" width="1" height="14" fill="#787878" class="c"/>
<rect x="645" y="593" width="1" height="14" fill="#787878" class="c"/>
<rect x="738" y="593" width="1" height="14" fill="#787878" class="c"/>
<rect x="830" y="593" width="1" height="14" fill="#787878" class="c"/>
<rect x="905" y="593" width="1" height="14" fill="#787878" class="c"/>
<rect x="998" y="593" width="1" height="14" fill="#787878" class="c"/>
<rect x="1077" y="593" width="1" height="14" fill="#787878" class="c"/>
<rect x="1157" y="593" width="1" height="14" fill="#787878" class="c"/>
<path d="M1185.3,595.8 L1185.3,602.2 L1181.7,599 Z" fill="#000"/>
<path d="M1201,595.8 L1201,602.2 L1204.4,599 Z" fill="#a0a0a0"/>
</svg></body></html>
